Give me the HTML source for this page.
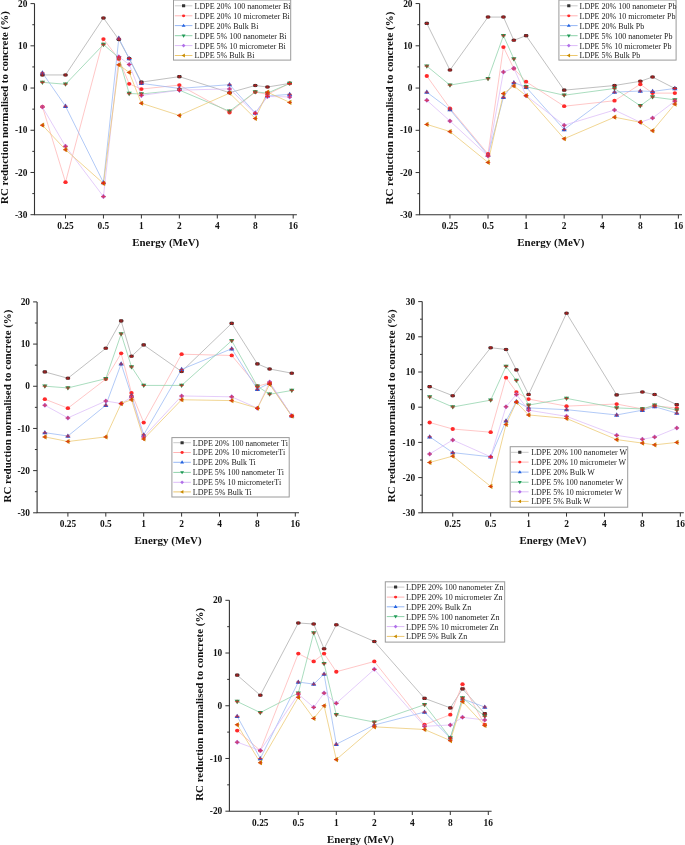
<!DOCTYPE html>
<html><head><meta charset="utf-8"><style>
html,body{margin:0;padding:0;background:#fff;}
svg{display:block;will-change:transform;}
</style></head><body>
<svg width="685" height="845" viewBox="0 0 685 845">
<rect width="685" height="845" fill="#fff"/>
<polyline points="42.42,74.95 65.5,74.95 103.45,17.95 118.82,39.49 129.18,58.49 141.4,82.13 179.35,76.64 229.52,92.68 255.25,85.51 267.47,87.03 289.67,83.4" fill="none" stroke="#ababab" stroke-width="0.75"/>
<polyline points="42.42,106.62 65.5,182.19 103.45,39.06 118.82,58.91 129.18,83.82 141.4,89.05 179.35,85.08 229.52,112.53 255.25,92.05 267.47,94.37 289.67,83.4" fill="none" stroke="#ffb4b4" stroke-width="0.75"/>
<polyline points="42.42,72.84 65.5,106.19 103.45,182.61 118.82,38.22 129.18,58.49 141.4,83.4 179.35,88.46 229.52,84.66 255.25,112.95 267.47,96.06 289.67,94.37" fill="none" stroke="#98b8f4" stroke-width="0.75"/>
<polyline points="42.42,82.34 65.5,84.24 103.45,44.55 118.82,57.64 129.18,93.53 141.4,93.95 179.35,90.15 229.52,111.26 255.25,91.84 267.47,93.11 289.67,83.4" fill="none" stroke="#8ed2aa" stroke-width="0.75"/>
<polyline points="42.42,107.04 65.5,146.3 103.45,196.55 118.82,56.8 129.18,64.4 141.4,95.43 179.35,90.15 229.52,88.88 255.25,113.37 267.47,96.48 289.67,96.91" fill="none" stroke="#dcbcf8" stroke-width="0.75"/>
<polyline points="42.42,125.19 65.5,149.68 103.45,183.46 118.82,64.82 129.18,72.42 141.4,103.24 179.35,115.48 229.52,93.11 255.25,118.44 267.47,92.14 289.67,102.39" fill="none" stroke="#ecc870" stroke-width="0.75"/>
<rect x="40.27" y="73.4" width="4.3" height="3.1" rx="1" fill="#333333"/>
<rect x="63.35" y="73.4" width="4.3" height="3.1" rx="1" fill="#333333"/>
<rect x="101.3" y="16.4" width="4.3" height="3.1" rx="1" fill="#333333"/>
<rect x="116.67" y="37.94" width="4.3" height="3.1" rx="1" fill="#333333"/>
<rect x="127.03" y="56.94" width="4.3" height="3.1" rx="1" fill="#333333"/>
<rect x="139.25" y="80.58" width="4.3" height="3.1" rx="1" fill="#333333"/>
<rect x="177.2" y="75.09" width="4.3" height="3.1" rx="1" fill="#333333"/>
<rect x="227.37" y="91.13" width="4.3" height="3.1" rx="1" fill="#333333"/>
<rect x="253.1" y="83.96" width="4.3" height="3.1" rx="1" fill="#333333"/>
<rect x="265.32" y="85.48" width="4.3" height="3.1" rx="1" fill="#333333"/>
<rect x="287.52" y="81.85" width="4.3" height="3.1" rx="1" fill="#333333"/>
<ellipse cx="42.42" cy="106.62" rx="2.15" ry="1.9" fill="#ff2a2a"/>
<ellipse cx="65.5" cy="182.19" rx="2.15" ry="1.9" fill="#ff2a2a"/>
<ellipse cx="103.45" cy="39.06" rx="2.15" ry="1.9" fill="#ff2a2a"/>
<ellipse cx="118.82" cy="58.91" rx="2.15" ry="1.9" fill="#ff2a2a"/>
<ellipse cx="129.18" cy="83.82" rx="2.15" ry="1.9" fill="#ff2a2a"/>
<ellipse cx="141.4" cy="89.05" rx="2.15" ry="1.9" fill="#ff2a2a"/>
<ellipse cx="179.35" cy="85.08" rx="2.15" ry="1.9" fill="#ff2a2a"/>
<ellipse cx="229.52" cy="112.53" rx="2.15" ry="1.9" fill="#ff2a2a"/>
<ellipse cx="255.25" cy="92.05" rx="2.15" ry="1.9" fill="#ff2a2a"/>
<ellipse cx="267.47" cy="94.37" rx="2.15" ry="1.9" fill="#ff2a2a"/>
<ellipse cx="289.67" cy="83.4" rx="2.15" ry="1.9" fill="#ff2a2a"/>
<path d="M42.42 70.24L45.02 74.53L39.82 74.53Z" fill="#2262e0"/>
<path d="M65.5 103.59L68.1 107.88L62.9 107.88Z" fill="#2262e0"/>
<path d="M103.45 180.01L106.05 184.3L100.85 184.3Z" fill="#2262e0"/>
<path d="M118.82 35.62L121.42 39.91L116.22 39.91Z" fill="#2262e0"/>
<path d="M129.18 55.89L131.78 60.18L126.58 60.18Z" fill="#2262e0"/>
<path d="M141.4 80.8L144 85.09L138.8 85.09Z" fill="#2262e0"/>
<path d="M179.35 85.86L181.95 90.15L176.75 90.15Z" fill="#2262e0"/>
<path d="M229.52 82.06L232.12 86.35L226.92 86.35Z" fill="#2262e0"/>
<path d="M255.25 110.35L257.85 114.64L252.65 114.64Z" fill="#2262e0"/>
<path d="M267.47 93.46L270.07 97.75L264.87 97.75Z" fill="#2262e0"/>
<path d="M289.67 91.77L292.27 96.06L287.07 96.06Z" fill="#2262e0"/>
<path d="M42.42 84.94L45.02 80.65L39.82 80.65Z" fill="#1f9a56"/>
<path d="M65.5 86.84L68.1 82.55L62.9 82.55Z" fill="#1f9a56"/>
<path d="M103.45 47.15L106.05 42.86L100.85 42.86Z" fill="#1f9a56"/>
<path d="M118.82 60.24L121.42 55.95L116.22 55.95Z" fill="#1f9a56"/>
<path d="M129.18 96.13L131.78 91.84L126.58 91.84Z" fill="#1f9a56"/>
<path d="M141.4 96.55L144 92.26L138.8 92.26Z" fill="#1f9a56"/>
<path d="M179.35 92.75L181.95 88.46L176.75 88.46Z" fill="#1f9a56"/>
<path d="M229.52 113.86L232.12 109.57L226.92 109.57Z" fill="#1f9a56"/>
<path d="M255.25 94.44L257.85 90.15L252.65 90.15Z" fill="#1f9a56"/>
<path d="M267.47 95.71L270.07 91.42L264.87 91.42Z" fill="#1f9a56"/>
<path d="M289.67 86L292.27 81.71L287.07 81.71Z" fill="#1f9a56"/>
<path d="M42.42 104.54L44.92 107.04L42.42 109.54L39.92 107.04Z" fill="#b070e8"/>
<path d="M65.5 143.8L68 146.3L65.5 148.8L63 146.3Z" fill="#b070e8"/>
<path d="M103.45 194.05L105.95 196.55L103.45 199.05L100.95 196.55Z" fill="#b070e8"/>
<path d="M118.82 54.3L121.32 56.8L118.82 59.3L116.32 56.8Z" fill="#b070e8"/>
<path d="M129.18 61.9L131.68 64.4L129.18 66.9L126.68 64.4Z" fill="#b070e8"/>
<path d="M141.4 92.93L143.9 95.43L141.4 97.93L138.9 95.43Z" fill="#b070e8"/>
<path d="M179.35 87.65L181.85 90.15L179.35 92.65L176.85 90.15Z" fill="#b070e8"/>
<path d="M229.52 86.38L232.02 88.88L229.52 91.38L227.02 88.88Z" fill="#b070e8"/>
<path d="M255.25 110.87L257.75 113.37L255.25 115.87L252.75 113.37Z" fill="#b070e8"/>
<path d="M267.47 93.98L269.97 96.48L267.47 98.98L264.97 96.48Z" fill="#b070e8"/>
<path d="M289.67 94.41L292.17 96.91L289.67 99.41L287.17 96.91Z" fill="#b070e8"/>
<path d="M39.82 125.19L44.11 122.59L44.11 127.79Z" fill="#c88a00"/>
<path d="M62.9 149.68L67.19 147.08L67.19 152.28Z" fill="#c88a00"/>
<path d="M100.85 183.46L105.14 180.86L105.14 186.06Z" fill="#c88a00"/>
<path d="M116.22 64.82L120.51 62.22L120.51 67.42Z" fill="#c88a00"/>
<path d="M126.58 72.42L130.87 69.82L130.87 75.02Z" fill="#c88a00"/>
<path d="M138.8 103.24L143.09 100.64L143.09 105.84Z" fill="#c88a00"/>
<path d="M176.75 115.48L181.04 112.88L181.04 118.08Z" fill="#c88a00"/>
<path d="M226.92 93.11L231.21 90.51L231.21 95.71Z" fill="#c88a00"/>
<path d="M252.65 118.44L256.94 115.84L256.94 121.04Z" fill="#c88a00"/>
<path d="M264.87 92.14L269.16 89.54L269.16 94.74Z" fill="#c88a00"/>
<path d="M287.07 102.39L291.36 99.79L291.36 104.99Z" fill="#c88a00"/>
<path d="M40.12 74.45h4.6v1.1h-4.6zM41.77 73.25h1.3v3.4h-1.3z" fill="#e81818" fill-opacity="0.6"/>
<path d="M63.2 74.45h4.6v1.1h-4.6zM64.85 73.25h1.3v3.4h-1.3z" fill="#e81818" fill-opacity="0.6"/>
<path d="M101.15 17.45h4.6v1.1h-4.6zM102.8 16.25h1.3v3.4h-1.3z" fill="#e81818" fill-opacity="0.6"/>
<path d="M116.52 38.99h4.6v1.1h-4.6zM118.17 37.79h1.3v3.4h-1.3z" fill="#e81818" fill-opacity="0.6"/>
<path d="M126.88 57.99h4.6v1.1h-4.6zM128.53 56.79h1.3v3.4h-1.3z" fill="#e81818" fill-opacity="0.6"/>
<path d="M139.1 81.63h4.6v1.1h-4.6zM140.75 80.43h1.3v3.4h-1.3z" fill="#e81818" fill-opacity="0.6"/>
<path d="M177.05 76.14h4.6v1.1h-4.6zM178.7 74.94h1.3v3.4h-1.3z" fill="#e81818" fill-opacity="0.6"/>
<path d="M227.22 92.18h4.6v1.1h-4.6zM228.87 90.98h1.3v3.4h-1.3z" fill="#e81818" fill-opacity="0.6"/>
<path d="M252.95 85.01h4.6v1.1h-4.6zM254.6 83.81h1.3v3.4h-1.3z" fill="#e81818" fill-opacity="0.6"/>
<path d="M265.17 86.53h4.6v1.1h-4.6zM266.82 85.33h1.3v3.4h-1.3z" fill="#e81818" fill-opacity="0.6"/>
<path d="M287.37 82.9h4.6v1.1h-4.6zM289.02 81.7h1.3v3.4h-1.3z" fill="#e81818" fill-opacity="0.6"/>
<path d="M40.12 72.34h4.6v1.1h-4.6zM41.77 71.14h1.3v3.4h-1.3z" fill="#e81818" fill-opacity="0.6"/>
<path d="M63.2 105.69h4.6v1.1h-4.6zM64.85 104.49h1.3v3.4h-1.3z" fill="#e81818" fill-opacity="0.6"/>
<path d="M101.15 182.11h4.6v1.1h-4.6zM102.8 180.91h1.3v3.4h-1.3z" fill="#e81818" fill-opacity="0.6"/>
<path d="M116.52 37.72h4.6v1.1h-4.6zM118.17 36.52h1.3v3.4h-1.3z" fill="#e81818" fill-opacity="0.6"/>
<path d="M126.88 57.99h4.6v1.1h-4.6zM128.53 56.79h1.3v3.4h-1.3z" fill="#e81818" fill-opacity="0.6"/>
<path d="M139.1 82.9h4.6v1.1h-4.6zM140.75 81.7h1.3v3.4h-1.3z" fill="#e81818" fill-opacity="0.6"/>
<path d="M177.05 87.96h4.6v1.1h-4.6zM178.7 86.76h1.3v3.4h-1.3z" fill="#e81818" fill-opacity="0.6"/>
<path d="M227.22 84.16h4.6v1.1h-4.6zM228.87 82.96h1.3v3.4h-1.3z" fill="#e81818" fill-opacity="0.6"/>
<path d="M252.95 112.45h4.6v1.1h-4.6zM254.6 111.25h1.3v3.4h-1.3z" fill="#e81818" fill-opacity="0.6"/>
<path d="M265.17 95.56h4.6v1.1h-4.6zM266.82 94.36h1.3v3.4h-1.3z" fill="#e81818" fill-opacity="0.6"/>
<path d="M287.37 93.87h4.6v1.1h-4.6zM289.02 92.67h1.3v3.4h-1.3z" fill="#e81818" fill-opacity="0.6"/>
<path d="M40.12 81.84h4.6v1.1h-4.6zM41.77 80.64h1.3v3.4h-1.3z" fill="#e81818" fill-opacity="0.6"/>
<path d="M63.2 83.74h4.6v1.1h-4.6zM64.85 82.54h1.3v3.4h-1.3z" fill="#e81818" fill-opacity="0.6"/>
<path d="M101.15 44.05h4.6v1.1h-4.6zM102.8 42.85h1.3v3.4h-1.3z" fill="#e81818" fill-opacity="0.6"/>
<path d="M116.52 57.14h4.6v1.1h-4.6zM118.17 55.94h1.3v3.4h-1.3z" fill="#e81818" fill-opacity="0.6"/>
<path d="M126.88 93.03h4.6v1.1h-4.6zM128.53 91.83h1.3v3.4h-1.3z" fill="#e81818" fill-opacity="0.6"/>
<path d="M139.1 93.45h4.6v1.1h-4.6zM140.75 92.25h1.3v3.4h-1.3z" fill="#e81818" fill-opacity="0.6"/>
<path d="M177.05 89.65h4.6v1.1h-4.6zM178.7 88.45h1.3v3.4h-1.3z" fill="#e81818" fill-opacity="0.6"/>
<path d="M227.22 110.76h4.6v1.1h-4.6zM228.87 109.56h1.3v3.4h-1.3z" fill="#e81818" fill-opacity="0.6"/>
<path d="M252.95 91.34h4.6v1.1h-4.6zM254.6 90.14h1.3v3.4h-1.3z" fill="#e81818" fill-opacity="0.6"/>
<path d="M265.17 92.61h4.6v1.1h-4.6zM266.82 91.41h1.3v3.4h-1.3z" fill="#e81818" fill-opacity="0.6"/>
<path d="M287.37 82.9h4.6v1.1h-4.6zM289.02 81.7h1.3v3.4h-1.3z" fill="#e81818" fill-opacity="0.6"/>
<path d="M40.12 106.54h4.6v1.1h-4.6zM41.77 105.34h1.3v3.4h-1.3z" fill="#e81818" fill-opacity="0.6"/>
<path d="M63.2 145.8h4.6v1.1h-4.6zM64.85 144.6h1.3v3.4h-1.3z" fill="#e81818" fill-opacity="0.6"/>
<path d="M101.15 196.05h4.6v1.1h-4.6zM102.8 194.85h1.3v3.4h-1.3z" fill="#e81818" fill-opacity="0.6"/>
<path d="M116.52 56.3h4.6v1.1h-4.6zM118.17 55.1h1.3v3.4h-1.3z" fill="#e81818" fill-opacity="0.6"/>
<path d="M126.88 63.9h4.6v1.1h-4.6zM128.53 62.7h1.3v3.4h-1.3z" fill="#e81818" fill-opacity="0.6"/>
<path d="M139.1 94.93h4.6v1.1h-4.6zM140.75 93.73h1.3v3.4h-1.3z" fill="#e81818" fill-opacity="0.6"/>
<path d="M177.05 89.65h4.6v1.1h-4.6zM178.7 88.45h1.3v3.4h-1.3z" fill="#e81818" fill-opacity="0.6"/>
<path d="M227.22 88.38h4.6v1.1h-4.6zM228.87 87.18h1.3v3.4h-1.3z" fill="#e81818" fill-opacity="0.6"/>
<path d="M252.95 112.87h4.6v1.1h-4.6zM254.6 111.67h1.3v3.4h-1.3z" fill="#e81818" fill-opacity="0.6"/>
<path d="M265.17 95.98h4.6v1.1h-4.6zM266.82 94.78h1.3v3.4h-1.3z" fill="#e81818" fill-opacity="0.6"/>
<path d="M287.37 96.41h4.6v1.1h-4.6zM289.02 95.21h1.3v3.4h-1.3z" fill="#e81818" fill-opacity="0.6"/>
<path d="M40.12 124.69h4.6v1.1h-4.6zM41.77 123.49h1.3v3.4h-1.3z" fill="#e81818" fill-opacity="0.6"/>
<path d="M63.2 149.18h4.6v1.1h-4.6zM64.85 147.98h1.3v3.4h-1.3z" fill="#e81818" fill-opacity="0.6"/>
<path d="M101.15 182.96h4.6v1.1h-4.6zM102.8 181.76h1.3v3.4h-1.3z" fill="#e81818" fill-opacity="0.6"/>
<path d="M116.52 64.32h4.6v1.1h-4.6zM118.17 63.12h1.3v3.4h-1.3z" fill="#e81818" fill-opacity="0.6"/>
<path d="M126.88 71.92h4.6v1.1h-4.6zM128.53 70.72h1.3v3.4h-1.3z" fill="#e81818" fill-opacity="0.6"/>
<path d="M139.1 102.74h4.6v1.1h-4.6zM140.75 101.54h1.3v3.4h-1.3z" fill="#e81818" fill-opacity="0.6"/>
<path d="M177.05 114.98h4.6v1.1h-4.6zM178.7 113.78h1.3v3.4h-1.3z" fill="#e81818" fill-opacity="0.6"/>
<path d="M227.22 92.61h4.6v1.1h-4.6zM228.87 91.41h1.3v3.4h-1.3z" fill="#e81818" fill-opacity="0.6"/>
<path d="M252.95 117.94h4.6v1.1h-4.6zM254.6 116.74h1.3v3.4h-1.3z" fill="#e81818" fill-opacity="0.6"/>
<path d="M265.17 91.64h4.6v1.1h-4.6zM266.82 90.44h1.3v3.4h-1.3z" fill="#e81818" fill-opacity="0.6"/>
<path d="M287.37 101.89h4.6v1.1h-4.6zM289.02 100.69h1.3v3.4h-1.3z" fill="#e81818" fill-opacity="0.6"/>
<path d="M34.5 3.6V214.7H296.9" fill="none" stroke="#333" stroke-width="1.1"/>
<path d="M30.5 3.6H34.5M32.3 24.71H34.5M30.5 45.82H34.5M32.3 66.93H34.5M30.5 88.04H34.5M32.3 109.15H34.5M30.5 130.26H34.5M32.3 151.37H34.5M30.5 172.48H34.5M32.3 193.59H34.5M30.5 214.7H34.5M65.5 214.7V218.5M103.45 214.7V218.5M141.4 214.7V218.5M179.35 214.7V218.5M217.3 214.7V218.5M255.25 214.7V218.5M293.2 214.7V218.5" fill="none" stroke="#333" stroke-width="1"/>
<g font-family="Liberation Serif" font-weight="bold" font-size="9.4" fill="#111"><text x="27.4" y="6.7" text-anchor="end">20</text><text x="27.4" y="48.92" text-anchor="end">10</text><text x="27.4" y="91.14" text-anchor="end">0</text><text x="27.4" y="133.36" text-anchor="end">-10</text><text x="27.4" y="175.58" text-anchor="end">-20</text><text x="27.4" y="217.8" text-anchor="end">-30</text><text x="65.5" y="229" text-anchor="middle">0.25</text><text x="103.45" y="229" text-anchor="middle">0.5</text><text x="141.4" y="229" text-anchor="middle">1</text><text x="179.35" y="229" text-anchor="middle">2</text><text x="217.3" y="229" text-anchor="middle">4</text><text x="255.25" y="229" text-anchor="middle">8</text><text x="293.2" y="229" text-anchor="middle">16</text></g>
<text x="165.7" y="246" text-anchor="middle" font-family="Liberation Serif" font-weight="bold" font-size="10.93" fill="#111">Energy (MeV)</text>
<text transform="translate(8 204) rotate(-90)" font-family="Liberation Serif" font-weight="bold" font-size="10.93" fill="#111">RC reduction normalised to concrete (%)</text>
<rect x="173.5" y="0" width="117.2" height="60.1" fill="#fff" stroke="#9a9a9a" stroke-width="1"/>
<path d="M174.8 5.8H192.4" stroke="#cacaca" stroke-width="1"/>
<rect x="182" y="4.3" width="3.2" height="3" rx="0.3" fill="#333333"/>
<text x="194.6" y="8.7" font-family="Liberation Serif" font-size="8.0" fill="#222">LDPE 20% 100 nanometer Bi</text>
<path d="M174.8 15.8H192.4" stroke="#ffb4b4" stroke-width="1"/>
<ellipse cx="183.6" cy="15.8" rx="1.61" ry="1.42" fill="#ff2a2a"/>
<text x="194.6" y="18.7" font-family="Liberation Serif" font-size="8.0" fill="#222">LDPE 20% 10 micrometer Bi</text>
<path d="M174.8 25.6H192.4" stroke="#98b8f4" stroke-width="1"/>
<path d="M183.6 23.65L185.55 26.87L181.65 26.87Z" fill="#2262e0"/>
<text x="194.6" y="28.5" font-family="Liberation Serif" font-size="8.0" fill="#222">LDPE 20% Bulk Bi</text>
<path d="M174.8 35.7H192.4" stroke="#8ed2aa" stroke-width="1"/>
<path d="M183.6 37.65L185.55 34.43L181.65 34.43Z" fill="#1f9a56"/>
<text x="194.6" y="38.6" font-family="Liberation Serif" font-size="8.0" fill="#222">LDPE 5% 100 nanometer Bi</text>
<path d="M174.8 45.6H192.4" stroke="#dcbcf8" stroke-width="1"/>
<path d="M183.6 43.73L185.47 45.6L183.6 47.48L181.72 45.6Z" fill="#b070e8"/>
<text x="194.6" y="48.5" font-family="Liberation Serif" font-size="8.0" fill="#222">LDPE 5% 10 micrometer Bi</text>
<path d="M174.8 55.5H192.4" stroke="#ecc870" stroke-width="1"/>
<path d="M181.65 55.5L184.87 53.55L184.87 57.45Z" fill="#c88a00"/>
<text x="194.6" y="58.4" font-family="Liberation Serif" font-size="8.0" fill="#222">LDPE 5% Bulk Bi</text>
<polyline points="426.8,23.41 449.96,70.05 488.03,17.07 503.44,17.07 513.84,40.31 526.1,35.66 564.17,90.16 614.5,85.51 640.31,81.29 652.57,77.06 674.84,88.47" fill="none" stroke="#ababab" stroke-width="0.75"/>
<polyline points="426.8,76.01 449.96,108.33 488.03,153.96 503.44,47.07 513.84,68.61 526.1,81.71 564.17,106.22 614.5,100.72 640.31,84.25 652.57,93.12 674.84,93.12" fill="none" stroke="#ffb4b4" stroke-width="0.75"/>
<polyline points="426.8,92.15 449.96,109.6 488.03,155.23 503.44,97.34 513.84,82.56 526.1,87.2 564.17,129.45 614.5,92.15 640.31,91.01 652.57,91.43 674.84,88.47" fill="none" stroke="#98b8f4" stroke-width="0.75"/>
<polyline points="426.8,66.08 449.96,85.09 488.03,78.75 503.44,35.66 513.84,58.9 526.1,86.78 564.17,95.23 614.5,88.47 640.31,105.79 652.57,96.92 674.84,99.88" fill="none" stroke="#8ed2aa" stroke-width="0.75"/>
<polyline points="426.8,100.3 449.96,121 488.03,156.07 503.44,71.99 513.84,68.19 526.1,95.65 564.17,125.23 614.5,110.02 640.31,122.27 652.57,118.05 674.84,101.15" fill="none" stroke="#dcbcf8" stroke-width="0.75"/>
<polyline points="426.8,124.38 449.96,131.57 488.03,162.41 503.44,93.54 513.84,85.94 526.1,95.65 564.17,138.75 614.5,117.2 640.31,122.27 652.57,130.72 674.84,104.1" fill="none" stroke="#ecc870" stroke-width="0.75"/>
<rect x="424.65" y="21.86" width="4.3" height="3.1" rx="1" fill="#333333"/>
<rect x="447.81" y="68.5" width="4.3" height="3.1" rx="1" fill="#333333"/>
<rect x="485.88" y="15.52" width="4.3" height="3.1" rx="1" fill="#333333"/>
<rect x="501.29" y="15.52" width="4.3" height="3.1" rx="1" fill="#333333"/>
<rect x="511.69" y="38.76" width="4.3" height="3.1" rx="1" fill="#333333"/>
<rect x="523.95" y="34.11" width="4.3" height="3.1" rx="1" fill="#333333"/>
<rect x="562.02" y="88.61" width="4.3" height="3.1" rx="1" fill="#333333"/>
<rect x="612.35" y="83.96" width="4.3" height="3.1" rx="1" fill="#333333"/>
<rect x="638.16" y="79.74" width="4.3" height="3.1" rx="1" fill="#333333"/>
<rect x="650.42" y="75.51" width="4.3" height="3.1" rx="1" fill="#333333"/>
<rect x="672.69" y="86.92" width="4.3" height="3.1" rx="1" fill="#333333"/>
<ellipse cx="426.8" cy="76.01" rx="2.15" ry="1.9" fill="#ff2a2a"/>
<ellipse cx="449.96" cy="108.33" rx="2.15" ry="1.9" fill="#ff2a2a"/>
<ellipse cx="488.03" cy="153.96" rx="2.15" ry="1.9" fill="#ff2a2a"/>
<ellipse cx="503.44" cy="47.07" rx="2.15" ry="1.9" fill="#ff2a2a"/>
<ellipse cx="513.84" cy="68.61" rx="2.15" ry="1.9" fill="#ff2a2a"/>
<ellipse cx="526.1" cy="81.71" rx="2.15" ry="1.9" fill="#ff2a2a"/>
<ellipse cx="564.17" cy="106.22" rx="2.15" ry="1.9" fill="#ff2a2a"/>
<ellipse cx="614.5" cy="100.72" rx="2.15" ry="1.9" fill="#ff2a2a"/>
<ellipse cx="640.31" cy="84.25" rx="2.15" ry="1.9" fill="#ff2a2a"/>
<ellipse cx="652.57" cy="93.12" rx="2.15" ry="1.9" fill="#ff2a2a"/>
<ellipse cx="674.84" cy="93.12" rx="2.15" ry="1.9" fill="#ff2a2a"/>
<path d="M426.8 89.55L429.4 93.84L424.2 93.84Z" fill="#2262e0"/>
<path d="M449.96 107L452.56 111.29L447.36 111.29Z" fill="#2262e0"/>
<path d="M488.03 152.63L490.63 156.92L485.43 156.92Z" fill="#2262e0"/>
<path d="M503.44 94.74L506.04 99.03L500.84 99.03Z" fill="#2262e0"/>
<path d="M513.84 79.96L516.44 84.25L511.24 84.25Z" fill="#2262e0"/>
<path d="M526.1 84.61L528.7 88.89L523.5 88.89Z" fill="#2262e0"/>
<path d="M564.17 126.85L566.77 131.14L561.57 131.14Z" fill="#2262e0"/>
<path d="M614.5 89.55L617.1 93.84L611.9 93.84Z" fill="#2262e0"/>
<path d="M640.31 88.41L642.91 92.7L637.71 92.7Z" fill="#2262e0"/>
<path d="M652.57 88.83L655.17 93.12L649.97 93.12Z" fill="#2262e0"/>
<path d="M674.84 85.87L677.44 90.16L672.24 90.16Z" fill="#2262e0"/>
<path d="M426.8 68.68L429.4 64.39L424.2 64.39Z" fill="#1f9a56"/>
<path d="M449.96 87.69L452.56 83.4L447.36 83.4Z" fill="#1f9a56"/>
<path d="M488.03 81.35L490.63 77.06L485.43 77.06Z" fill="#1f9a56"/>
<path d="M503.44 38.26L506.04 33.97L500.84 33.97Z" fill="#1f9a56"/>
<path d="M513.84 61.5L516.44 57.21L511.24 57.21Z" fill="#1f9a56"/>
<path d="M526.1 89.38L528.7 85.09L523.5 85.09Z" fill="#1f9a56"/>
<path d="M564.17 97.83L566.77 93.54L561.57 93.54Z" fill="#1f9a56"/>
<path d="M614.5 91.07L617.1 86.78L611.9 86.78Z" fill="#1f9a56"/>
<path d="M640.31 108.39L642.91 104.1L637.71 104.1Z" fill="#1f9a56"/>
<path d="M652.57 99.52L655.17 95.23L649.97 95.23Z" fill="#1f9a56"/>
<path d="M674.84 102.48L677.44 98.19L672.24 98.19Z" fill="#1f9a56"/>
<path d="M426.8 97.8L429.3 100.3L426.8 102.8L424.3 100.3Z" fill="#b070e8"/>
<path d="M449.96 118.5L452.46 121L449.96 123.5L447.46 121Z" fill="#b070e8"/>
<path d="M488.03 153.57L490.53 156.07L488.03 158.57L485.53 156.07Z" fill="#b070e8"/>
<path d="M503.44 69.49L505.94 71.99L503.44 74.49L500.94 71.99Z" fill="#b070e8"/>
<path d="M513.84 65.69L516.34 68.19L513.84 70.69L511.34 68.19Z" fill="#b070e8"/>
<path d="M526.1 93.15L528.6 95.65L526.1 98.15L523.6 95.65Z" fill="#b070e8"/>
<path d="M564.17 122.73L566.67 125.23L564.17 127.73L561.67 125.23Z" fill="#b070e8"/>
<path d="M614.5 107.52L617 110.02L614.5 112.52L612 110.02Z" fill="#b070e8"/>
<path d="M640.31 119.77L642.81 122.27L640.31 124.77L637.81 122.27Z" fill="#b070e8"/>
<path d="M652.57 115.55L655.07 118.05L652.57 120.55L650.07 118.05Z" fill="#b070e8"/>
<path d="M674.84 98.65L677.34 101.15L674.84 103.65L672.34 101.15Z" fill="#b070e8"/>
<path d="M424.2 124.38L428.49 121.78L428.49 126.98Z" fill="#c88a00"/>
<path d="M447.36 131.57L451.65 128.97L451.65 134.17Z" fill="#c88a00"/>
<path d="M485.43 162.41L489.72 159.81L489.72 165.01Z" fill="#c88a00"/>
<path d="M500.84 93.54L505.13 90.94L505.13 96.14Z" fill="#c88a00"/>
<path d="M511.24 85.94L515.53 83.34L515.53 88.54Z" fill="#c88a00"/>
<path d="M523.5 95.65L527.79 93.05L527.79 98.25Z" fill="#c88a00"/>
<path d="M561.57 138.75L565.86 136.15L565.86 141.35Z" fill="#c88a00"/>
<path d="M611.9 117.2L616.19 114.6L616.19 119.8Z" fill="#c88a00"/>
<path d="M637.71 122.27L642 119.67L642 124.87Z" fill="#c88a00"/>
<path d="M649.97 130.72L654.26 128.12L654.26 133.32Z" fill="#c88a00"/>
<path d="M672.24 104.1L676.53 101.5L676.53 106.7Z" fill="#c88a00"/>
<path d="M424.5 22.91h4.6v1.1h-4.6zM426.15 21.71h1.3v3.4h-1.3z" fill="#e81818" fill-opacity="0.6"/>
<path d="M447.66 69.55h4.6v1.1h-4.6zM449.31 68.35h1.3v3.4h-1.3z" fill="#e81818" fill-opacity="0.6"/>
<path d="M485.73 16.57h4.6v1.1h-4.6zM487.38 15.37h1.3v3.4h-1.3z" fill="#e81818" fill-opacity="0.6"/>
<path d="M501.14 16.57h4.6v1.1h-4.6zM502.79 15.37h1.3v3.4h-1.3z" fill="#e81818" fill-opacity="0.6"/>
<path d="M511.54 39.81h4.6v1.1h-4.6zM513.19 38.61h1.3v3.4h-1.3z" fill="#e81818" fill-opacity="0.6"/>
<path d="M523.8 35.16h4.6v1.1h-4.6zM525.45 33.96h1.3v3.4h-1.3z" fill="#e81818" fill-opacity="0.6"/>
<path d="M561.87 89.66h4.6v1.1h-4.6zM563.52 88.46h1.3v3.4h-1.3z" fill="#e81818" fill-opacity="0.6"/>
<path d="M612.2 85.01h4.6v1.1h-4.6zM613.85 83.81h1.3v3.4h-1.3z" fill="#e81818" fill-opacity="0.6"/>
<path d="M638.01 80.79h4.6v1.1h-4.6zM639.66 79.59h1.3v3.4h-1.3z" fill="#e81818" fill-opacity="0.6"/>
<path d="M650.27 76.56h4.6v1.1h-4.6zM651.92 75.36h1.3v3.4h-1.3z" fill="#e81818" fill-opacity="0.6"/>
<path d="M672.54 87.97h4.6v1.1h-4.6zM674.19 86.77h1.3v3.4h-1.3z" fill="#e81818" fill-opacity="0.6"/>
<path d="M424.5 91.65h4.6v1.1h-4.6zM426.15 90.45h1.3v3.4h-1.3z" fill="#e81818" fill-opacity="0.6"/>
<path d="M447.66 109.1h4.6v1.1h-4.6zM449.31 107.9h1.3v3.4h-1.3z" fill="#e81818" fill-opacity="0.6"/>
<path d="M485.73 154.73h4.6v1.1h-4.6zM487.38 153.53h1.3v3.4h-1.3z" fill="#e81818" fill-opacity="0.6"/>
<path d="M501.14 96.84h4.6v1.1h-4.6zM502.79 95.64h1.3v3.4h-1.3z" fill="#e81818" fill-opacity="0.6"/>
<path d="M511.54 82.06h4.6v1.1h-4.6zM513.19 80.86h1.3v3.4h-1.3z" fill="#e81818" fill-opacity="0.6"/>
<path d="M523.8 86.7h4.6v1.1h-4.6zM525.45 85.5h1.3v3.4h-1.3z" fill="#e81818" fill-opacity="0.6"/>
<path d="M561.87 128.95h4.6v1.1h-4.6zM563.52 127.75h1.3v3.4h-1.3z" fill="#e81818" fill-opacity="0.6"/>
<path d="M612.2 91.65h4.6v1.1h-4.6zM613.85 90.45h1.3v3.4h-1.3z" fill="#e81818" fill-opacity="0.6"/>
<path d="M638.01 90.51h4.6v1.1h-4.6zM639.66 89.31h1.3v3.4h-1.3z" fill="#e81818" fill-opacity="0.6"/>
<path d="M650.27 90.93h4.6v1.1h-4.6zM651.92 89.73h1.3v3.4h-1.3z" fill="#e81818" fill-opacity="0.6"/>
<path d="M672.54 87.97h4.6v1.1h-4.6zM674.19 86.77h1.3v3.4h-1.3z" fill="#e81818" fill-opacity="0.6"/>
<path d="M424.5 65.58h4.6v1.1h-4.6zM426.15 64.38h1.3v3.4h-1.3z" fill="#e81818" fill-opacity="0.6"/>
<path d="M447.66 84.59h4.6v1.1h-4.6zM449.31 83.39h1.3v3.4h-1.3z" fill="#e81818" fill-opacity="0.6"/>
<path d="M485.73 78.25h4.6v1.1h-4.6zM487.38 77.05h1.3v3.4h-1.3z" fill="#e81818" fill-opacity="0.6"/>
<path d="M501.14 35.16h4.6v1.1h-4.6zM502.79 33.96h1.3v3.4h-1.3z" fill="#e81818" fill-opacity="0.6"/>
<path d="M511.54 58.4h4.6v1.1h-4.6zM513.19 57.2h1.3v3.4h-1.3z" fill="#e81818" fill-opacity="0.6"/>
<path d="M523.8 86.28h4.6v1.1h-4.6zM525.45 85.08h1.3v3.4h-1.3z" fill="#e81818" fill-opacity="0.6"/>
<path d="M561.87 94.73h4.6v1.1h-4.6zM563.52 93.53h1.3v3.4h-1.3z" fill="#e81818" fill-opacity="0.6"/>
<path d="M612.2 87.97h4.6v1.1h-4.6zM613.85 86.77h1.3v3.4h-1.3z" fill="#e81818" fill-opacity="0.6"/>
<path d="M638.01 105.29h4.6v1.1h-4.6zM639.66 104.09h1.3v3.4h-1.3z" fill="#e81818" fill-opacity="0.6"/>
<path d="M650.27 96.42h4.6v1.1h-4.6zM651.92 95.22h1.3v3.4h-1.3z" fill="#e81818" fill-opacity="0.6"/>
<path d="M672.54 99.38h4.6v1.1h-4.6zM674.19 98.18h1.3v3.4h-1.3z" fill="#e81818" fill-opacity="0.6"/>
<path d="M424.5 99.8h4.6v1.1h-4.6zM426.15 98.6h1.3v3.4h-1.3z" fill="#e81818" fill-opacity="0.6"/>
<path d="M447.66 120.5h4.6v1.1h-4.6zM449.31 119.3h1.3v3.4h-1.3z" fill="#e81818" fill-opacity="0.6"/>
<path d="M485.73 155.57h4.6v1.1h-4.6zM487.38 154.37h1.3v3.4h-1.3z" fill="#e81818" fill-opacity="0.6"/>
<path d="M501.14 71.49h4.6v1.1h-4.6zM502.79 70.29h1.3v3.4h-1.3z" fill="#e81818" fill-opacity="0.6"/>
<path d="M511.54 67.69h4.6v1.1h-4.6zM513.19 66.49h1.3v3.4h-1.3z" fill="#e81818" fill-opacity="0.6"/>
<path d="M523.8 95.15h4.6v1.1h-4.6zM525.45 93.95h1.3v3.4h-1.3z" fill="#e81818" fill-opacity="0.6"/>
<path d="M561.87 124.73h4.6v1.1h-4.6zM563.52 123.53h1.3v3.4h-1.3z" fill="#e81818" fill-opacity="0.6"/>
<path d="M612.2 109.52h4.6v1.1h-4.6zM613.85 108.32h1.3v3.4h-1.3z" fill="#e81818" fill-opacity="0.6"/>
<path d="M638.01 121.77h4.6v1.1h-4.6zM639.66 120.57h1.3v3.4h-1.3z" fill="#e81818" fill-opacity="0.6"/>
<path d="M650.27 117.55h4.6v1.1h-4.6zM651.92 116.35h1.3v3.4h-1.3z" fill="#e81818" fill-opacity="0.6"/>
<path d="M672.54 100.65h4.6v1.1h-4.6zM674.19 99.45h1.3v3.4h-1.3z" fill="#e81818" fill-opacity="0.6"/>
<path d="M424.5 123.88h4.6v1.1h-4.6zM426.15 122.68h1.3v3.4h-1.3z" fill="#e81818" fill-opacity="0.6"/>
<path d="M447.66 131.07h4.6v1.1h-4.6zM449.31 129.87h1.3v3.4h-1.3z" fill="#e81818" fill-opacity="0.6"/>
<path d="M485.73 161.91h4.6v1.1h-4.6zM487.38 160.71h1.3v3.4h-1.3z" fill="#e81818" fill-opacity="0.6"/>
<path d="M501.14 93.04h4.6v1.1h-4.6zM502.79 91.84h1.3v3.4h-1.3z" fill="#e81818" fill-opacity="0.6"/>
<path d="M511.54 85.44h4.6v1.1h-4.6zM513.19 84.24h1.3v3.4h-1.3z" fill="#e81818" fill-opacity="0.6"/>
<path d="M523.8 95.15h4.6v1.1h-4.6zM525.45 93.95h1.3v3.4h-1.3z" fill="#e81818" fill-opacity="0.6"/>
<path d="M561.87 138.25h4.6v1.1h-4.6zM563.52 137.05h1.3v3.4h-1.3z" fill="#e81818" fill-opacity="0.6"/>
<path d="M612.2 116.7h4.6v1.1h-4.6zM613.85 115.5h1.3v3.4h-1.3z" fill="#e81818" fill-opacity="0.6"/>
<path d="M638.01 121.77h4.6v1.1h-4.6zM639.66 120.57h1.3v3.4h-1.3z" fill="#e81818" fill-opacity="0.6"/>
<path d="M650.27 130.22h4.6v1.1h-4.6zM651.92 129.02h1.3v3.4h-1.3z" fill="#e81818" fill-opacity="0.6"/>
<path d="M672.54 103.6h4.6v1.1h-4.6zM674.19 102.4h1.3v3.4h-1.3z" fill="#e81818" fill-opacity="0.6"/>
<path d="M419.6 3.55V214.8H682" fill="none" stroke="#333" stroke-width="1.1"/>
<path d="M415.6 3.55H419.6M417.4 24.68H419.6M415.6 45.8H419.6M417.4 66.92H419.6M415.6 88.05H419.6M417.4 109.17H419.6M415.6 130.3H419.6M417.4 151.43H419.6M415.6 172.55H419.6M417.4 193.67H419.6M415.6 214.8H419.6M449.96 214.8V218.6M488.03 214.8V218.6M526.1 214.8V218.6M564.17 214.8V218.6M602.24 214.8V218.6M640.31 214.8V218.6M678.38 214.8V218.6" fill="none" stroke="#333" stroke-width="1"/>
<g font-family="Liberation Serif" font-weight="bold" font-size="9.4" fill="#111"><text x="412.5" y="6.65" text-anchor="end">20</text><text x="412.5" y="48.9" text-anchor="end">10</text><text x="412.5" y="91.15" text-anchor="end">0</text><text x="412.5" y="133.4" text-anchor="end">-10</text><text x="412.5" y="175.65" text-anchor="end">-20</text><text x="412.5" y="217.9" text-anchor="end">-30</text><text x="449.96" y="229.1" text-anchor="middle">0.25</text><text x="488.03" y="229.1" text-anchor="middle">0.5</text><text x="526.1" y="229.1" text-anchor="middle">1</text><text x="564.17" y="229.1" text-anchor="middle">2</text><text x="602.24" y="229.1" text-anchor="middle">4</text><text x="640.31" y="229.1" text-anchor="middle">8</text><text x="678.38" y="229.1" text-anchor="middle">16</text></g>
<text x="550.8" y="246.1" text-anchor="middle" font-family="Liberation Serif" font-weight="bold" font-size="10.93" fill="#111">Energy (MeV)</text>
<text transform="translate(392.9 204.5) rotate(-90)" font-family="Liberation Serif" font-weight="bold" font-size="10.93" fill="#111">RC reduction normalised to concrete (%)</text>
<rect x="558.9" y="0" width="117.2" height="60.1" fill="#fff" stroke="#9a9a9a" stroke-width="1"/>
<path d="M560 5.8H577.6" stroke="#cacaca" stroke-width="1"/>
<rect x="567.2" y="4.3" width="3.2" height="3" rx="0.3" fill="#333333"/>
<text x="579.5" y="8.7" font-family="Liberation Serif" font-size="8.0" fill="#222">LDPE 20% 100 nanometer Pb</text>
<path d="M560 15.8H577.6" stroke="#ffb4b4" stroke-width="1"/>
<ellipse cx="568.8" cy="15.8" rx="1.61" ry="1.42" fill="#ff2a2a"/>
<text x="579.5" y="18.7" font-family="Liberation Serif" font-size="8.0" fill="#222">LDPE 20% 10 micrometer Pb</text>
<path d="M560 25.6H577.6" stroke="#98b8f4" stroke-width="1"/>
<path d="M568.8 23.65L570.75 26.87L566.85 26.87Z" fill="#2262e0"/>
<text x="579.5" y="28.5" font-family="Liberation Serif" font-size="8.0" fill="#222">LDPE 20% Bulk Pb</text>
<path d="M560 35.7H577.6" stroke="#8ed2aa" stroke-width="1"/>
<path d="M568.8 37.65L570.75 34.43L566.85 34.43Z" fill="#1f9a56"/>
<text x="579.5" y="38.6" font-family="Liberation Serif" font-size="8.0" fill="#222">LDPE 5% 100 nanometer Pb</text>
<path d="M560 45.6H577.6" stroke="#dcbcf8" stroke-width="1"/>
<path d="M568.8 43.73L570.67 45.6L568.8 47.48L566.92 45.6Z" fill="#b070e8"/>
<text x="579.5" y="48.5" font-family="Liberation Serif" font-size="8.0" fill="#222">LDPE 5% 10 micrometer Pb</text>
<path d="M560 55.5H577.6" stroke="#ecc870" stroke-width="1"/>
<path d="M566.85 55.5L570.07 53.55L570.07 57.45Z" fill="#c88a00"/>
<text x="579.5" y="58.4" font-family="Liberation Serif" font-size="8.0" fill="#222">LDPE 5% Bulk Pb</text>
<polyline points="44.85,371.92 67.9,378.25 105.8,348.3 121.15,320.88 131.5,356.31 143.7,344.92 181.6,371.5 231.7,323.41 257.4,363.9 269.6,368.97 291.77,373.18" fill="none" stroke="#ababab" stroke-width="0.75"/>
<polyline points="44.85,399.17 67.9,408.19 105.8,379.09 121.15,353.36 131.5,393.01 143.7,422.53 181.6,354.2 231.7,355.47 257.4,386.26 269.6,382.89 291.77,415.79" fill="none" stroke="#ffb4b4" stroke-width="0.75"/>
<polyline points="44.85,432.66 67.9,436.03 105.8,405.24 121.15,363.9 131.5,395.54 143.7,434.77 181.6,369.39 231.7,348.72 257.4,389.21 269.6,383.31 291.77,415.79" fill="none" stroke="#98b8f4" stroke-width="0.75"/>
<polyline points="44.85,386.18 67.9,387.95 105.8,378.67 121.15,333.96 131.5,366.86 143.7,385.42 181.6,385.42 231.7,340.71 257.4,386.26 269.6,394.27 291.77,390.48" fill="none" stroke="#8ed2aa" stroke-width="0.75"/>
<polyline points="44.85,405.24 67.9,417.89 105.8,401.02 121.15,403.55 131.5,397.23 143.7,436.88 181.6,395.96 231.7,396.8 257.4,408.19 269.6,382.04 291.77,415.79" fill="none" stroke="#dcbcf8" stroke-width="0.75"/>
<polyline points="44.85,436.88 67.9,441.52 105.8,436.88 121.15,403.55 131.5,399.76 143.7,438.99 181.6,399.76 231.7,400.6 257.4,408.19 269.6,384.36 291.77,416.21" fill="none" stroke="#ecc870" stroke-width="0.75"/>
<rect x="42.7" y="370.37" width="4.3" height="3.1" rx="1" fill="#333333"/>
<rect x="65.75" y="376.7" width="4.3" height="3.1" rx="1" fill="#333333"/>
<rect x="103.65" y="346.75" width="4.3" height="3.1" rx="1" fill="#333333"/>
<rect x="119" y="319.33" width="4.3" height="3.1" rx="1" fill="#333333"/>
<rect x="129.35" y="354.76" width="4.3" height="3.1" rx="1" fill="#333333"/>
<rect x="141.55" y="343.37" width="4.3" height="3.1" rx="1" fill="#333333"/>
<rect x="179.45" y="369.95" width="4.3" height="3.1" rx="1" fill="#333333"/>
<rect x="229.55" y="321.86" width="4.3" height="3.1" rx="1" fill="#333333"/>
<rect x="255.25" y="362.35" width="4.3" height="3.1" rx="1" fill="#333333"/>
<rect x="267.45" y="367.42" width="4.3" height="3.1" rx="1" fill="#333333"/>
<rect x="289.62" y="371.63" width="4.3" height="3.1" rx="1" fill="#333333"/>
<ellipse cx="44.85" cy="399.17" rx="2.15" ry="1.9" fill="#ff2a2a"/>
<ellipse cx="67.9" cy="408.19" rx="2.15" ry="1.9" fill="#ff2a2a"/>
<ellipse cx="105.8" cy="379.09" rx="2.15" ry="1.9" fill="#ff2a2a"/>
<ellipse cx="121.15" cy="353.36" rx="2.15" ry="1.9" fill="#ff2a2a"/>
<ellipse cx="131.5" cy="393.01" rx="2.15" ry="1.9" fill="#ff2a2a"/>
<ellipse cx="143.7" cy="422.53" rx="2.15" ry="1.9" fill="#ff2a2a"/>
<ellipse cx="181.6" cy="354.2" rx="2.15" ry="1.9" fill="#ff2a2a"/>
<ellipse cx="231.7" cy="355.47" rx="2.15" ry="1.9" fill="#ff2a2a"/>
<ellipse cx="257.4" cy="386.26" rx="2.15" ry="1.9" fill="#ff2a2a"/>
<ellipse cx="269.6" cy="382.89" rx="2.15" ry="1.9" fill="#ff2a2a"/>
<ellipse cx="291.77" cy="415.79" rx="2.15" ry="1.9" fill="#ff2a2a"/>
<path d="M44.85 430.06L47.45 434.35L42.25 434.35Z" fill="#2262e0"/>
<path d="M67.9 433.43L70.5 437.72L65.3 437.72Z" fill="#2262e0"/>
<path d="M105.8 402.64L108.4 406.93L103.2 406.93Z" fill="#2262e0"/>
<path d="M121.15 361.3L123.75 365.59L118.55 365.59Z" fill="#2262e0"/>
<path d="M131.5 392.94L134.1 397.23L128.9 397.23Z" fill="#2262e0"/>
<path d="M143.7 432.17L146.3 436.46L141.1 436.46Z" fill="#2262e0"/>
<path d="M181.6 366.79L184.2 371.08L179 371.08Z" fill="#2262e0"/>
<path d="M231.7 346.12L234.3 350.41L229.1 350.41Z" fill="#2262e0"/>
<path d="M257.4 386.61L260 390.9L254.8 390.9Z" fill="#2262e0"/>
<path d="M269.6 380.71L272.2 385L267 385Z" fill="#2262e0"/>
<path d="M291.77 413.19L294.37 417.48L289.17 417.48Z" fill="#2262e0"/>
<path d="M44.85 388.78L47.45 384.49L42.25 384.49Z" fill="#1f9a56"/>
<path d="M67.9 390.55L70.5 386.26L65.3 386.26Z" fill="#1f9a56"/>
<path d="M105.8 381.27L108.4 376.98L103.2 376.98Z" fill="#1f9a56"/>
<path d="M121.15 336.56L123.75 332.27L118.55 332.27Z" fill="#1f9a56"/>
<path d="M131.5 369.46L134.1 365.17L128.9 365.17Z" fill="#1f9a56"/>
<path d="M143.7 388.02L146.3 383.73L141.1 383.73Z" fill="#1f9a56"/>
<path d="M181.6 388.02L184.2 383.73L179 383.73Z" fill="#1f9a56"/>
<path d="M231.7 343.31L234.3 339.02L229.1 339.02Z" fill="#1f9a56"/>
<path d="M257.4 388.86L260 384.57L254.8 384.57Z" fill="#1f9a56"/>
<path d="M269.6 396.87L272.2 392.58L267 392.58Z" fill="#1f9a56"/>
<path d="M291.77 393.08L294.37 388.79L289.17 388.79Z" fill="#1f9a56"/>
<path d="M44.85 402.74L47.35 405.24L44.85 407.74L42.35 405.24Z" fill="#b070e8"/>
<path d="M67.9 415.39L70.4 417.89L67.9 420.39L65.4 417.89Z" fill="#b070e8"/>
<path d="M105.8 398.52L108.3 401.02L105.8 403.52L103.3 401.02Z" fill="#b070e8"/>
<path d="M121.15 401.05L123.65 403.55L121.15 406.05L118.65 403.55Z" fill="#b070e8"/>
<path d="M131.5 394.73L134 397.23L131.5 399.73L129 397.23Z" fill="#b070e8"/>
<path d="M143.7 434.38L146.2 436.88L143.7 439.38L141.2 436.88Z" fill="#b070e8"/>
<path d="M181.6 393.46L184.1 395.96L181.6 398.46L179.1 395.96Z" fill="#b070e8"/>
<path d="M231.7 394.3L234.2 396.8L231.7 399.3L229.2 396.8Z" fill="#b070e8"/>
<path d="M257.4 405.69L259.9 408.19L257.4 410.69L254.9 408.19Z" fill="#b070e8"/>
<path d="M269.6 379.54L272.1 382.04L269.6 384.54L267.1 382.04Z" fill="#b070e8"/>
<path d="M291.77 413.29L294.27 415.79L291.77 418.29L289.27 415.79Z" fill="#b070e8"/>
<path d="M42.25 436.88L46.54 434.28L46.54 439.48Z" fill="#c88a00"/>
<path d="M65.3 441.52L69.59 438.92L69.59 444.12Z" fill="#c88a00"/>
<path d="M103.2 436.88L107.49 434.28L107.49 439.48Z" fill="#c88a00"/>
<path d="M118.55 403.55L122.84 400.95L122.84 406.15Z" fill="#c88a00"/>
<path d="M128.9 399.76L133.19 397.16L133.19 402.36Z" fill="#c88a00"/>
<path d="M141.1 438.99L145.39 436.38L145.39 441.59Z" fill="#c88a00"/>
<path d="M179 399.76L183.29 397.16L183.29 402.36Z" fill="#c88a00"/>
<path d="M229.1 400.6L233.39 398L233.39 403.2Z" fill="#c88a00"/>
<path d="M254.8 408.19L259.09 405.59L259.09 410.79Z" fill="#c88a00"/>
<path d="M267 384.36L271.29 381.76L271.29 386.96Z" fill="#c88a00"/>
<path d="M289.17 416.21L293.46 413.61L293.46 418.81Z" fill="#c88a00"/>
<path d="M42.55 371.42h4.6v1.1h-4.6zM44.2 370.22h1.3v3.4h-1.3z" fill="#e81818" fill-opacity="0.6"/>
<path d="M65.6 377.75h4.6v1.1h-4.6zM67.25 376.55h1.3v3.4h-1.3z" fill="#e81818" fill-opacity="0.6"/>
<path d="M103.5 347.8h4.6v1.1h-4.6zM105.15 346.6h1.3v3.4h-1.3z" fill="#e81818" fill-opacity="0.6"/>
<path d="M118.85 320.38h4.6v1.1h-4.6zM120.5 319.18h1.3v3.4h-1.3z" fill="#e81818" fill-opacity="0.6"/>
<path d="M129.2 355.81h4.6v1.1h-4.6zM130.85 354.61h1.3v3.4h-1.3z" fill="#e81818" fill-opacity="0.6"/>
<path d="M141.4 344.42h4.6v1.1h-4.6zM143.05 343.22h1.3v3.4h-1.3z" fill="#e81818" fill-opacity="0.6"/>
<path d="M179.3 371h4.6v1.1h-4.6zM180.95 369.8h1.3v3.4h-1.3z" fill="#e81818" fill-opacity="0.6"/>
<path d="M229.4 322.91h4.6v1.1h-4.6zM231.05 321.71h1.3v3.4h-1.3z" fill="#e81818" fill-opacity="0.6"/>
<path d="M255.1 363.4h4.6v1.1h-4.6zM256.75 362.2h1.3v3.4h-1.3z" fill="#e81818" fill-opacity="0.6"/>
<path d="M267.3 368.47h4.6v1.1h-4.6zM268.95 367.27h1.3v3.4h-1.3z" fill="#e81818" fill-opacity="0.6"/>
<path d="M289.47 372.68h4.6v1.1h-4.6zM291.12 371.48h1.3v3.4h-1.3z" fill="#e81818" fill-opacity="0.6"/>
<path d="M42.55 432.16h4.6v1.1h-4.6zM44.2 430.96h1.3v3.4h-1.3z" fill="#e81818" fill-opacity="0.6"/>
<path d="M65.6 435.53h4.6v1.1h-4.6zM67.25 434.33h1.3v3.4h-1.3z" fill="#e81818" fill-opacity="0.6"/>
<path d="M103.5 404.74h4.6v1.1h-4.6zM105.15 403.54h1.3v3.4h-1.3z" fill="#e81818" fill-opacity="0.6"/>
<path d="M118.85 363.4h4.6v1.1h-4.6zM120.5 362.2h1.3v3.4h-1.3z" fill="#e81818" fill-opacity="0.6"/>
<path d="M129.2 395.04h4.6v1.1h-4.6zM130.85 393.84h1.3v3.4h-1.3z" fill="#e81818" fill-opacity="0.6"/>
<path d="M141.4 434.27h4.6v1.1h-4.6zM143.05 433.07h1.3v3.4h-1.3z" fill="#e81818" fill-opacity="0.6"/>
<path d="M179.3 368.89h4.6v1.1h-4.6zM180.95 367.69h1.3v3.4h-1.3z" fill="#e81818" fill-opacity="0.6"/>
<path d="M229.4 348.22h4.6v1.1h-4.6zM231.05 347.02h1.3v3.4h-1.3z" fill="#e81818" fill-opacity="0.6"/>
<path d="M255.1 388.71h4.6v1.1h-4.6zM256.75 387.51h1.3v3.4h-1.3z" fill="#e81818" fill-opacity="0.6"/>
<path d="M267.3 382.81h4.6v1.1h-4.6zM268.95 381.61h1.3v3.4h-1.3z" fill="#e81818" fill-opacity="0.6"/>
<path d="M289.47 415.29h4.6v1.1h-4.6zM291.12 414.09h1.3v3.4h-1.3z" fill="#e81818" fill-opacity="0.6"/>
<path d="M42.55 385.68h4.6v1.1h-4.6zM44.2 384.48h1.3v3.4h-1.3z" fill="#e81818" fill-opacity="0.6"/>
<path d="M65.6 387.45h4.6v1.1h-4.6zM67.25 386.25h1.3v3.4h-1.3z" fill="#e81818" fill-opacity="0.6"/>
<path d="M103.5 378.17h4.6v1.1h-4.6zM105.15 376.97h1.3v3.4h-1.3z" fill="#e81818" fill-opacity="0.6"/>
<path d="M118.85 333.46h4.6v1.1h-4.6zM120.5 332.26h1.3v3.4h-1.3z" fill="#e81818" fill-opacity="0.6"/>
<path d="M129.2 366.36h4.6v1.1h-4.6zM130.85 365.16h1.3v3.4h-1.3z" fill="#e81818" fill-opacity="0.6"/>
<path d="M141.4 384.92h4.6v1.1h-4.6zM143.05 383.72h1.3v3.4h-1.3z" fill="#e81818" fill-opacity="0.6"/>
<path d="M179.3 384.92h4.6v1.1h-4.6zM180.95 383.72h1.3v3.4h-1.3z" fill="#e81818" fill-opacity="0.6"/>
<path d="M229.4 340.21h4.6v1.1h-4.6zM231.05 339.01h1.3v3.4h-1.3z" fill="#e81818" fill-opacity="0.6"/>
<path d="M255.1 385.76h4.6v1.1h-4.6zM256.75 384.56h1.3v3.4h-1.3z" fill="#e81818" fill-opacity="0.6"/>
<path d="M267.3 393.77h4.6v1.1h-4.6zM268.95 392.57h1.3v3.4h-1.3z" fill="#e81818" fill-opacity="0.6"/>
<path d="M289.47 389.98h4.6v1.1h-4.6zM291.12 388.78h1.3v3.4h-1.3z" fill="#e81818" fill-opacity="0.6"/>
<path d="M42.55 404.74h4.6v1.1h-4.6zM44.2 403.54h1.3v3.4h-1.3z" fill="#e81818" fill-opacity="0.6"/>
<path d="M65.6 417.39h4.6v1.1h-4.6zM67.25 416.19h1.3v3.4h-1.3z" fill="#e81818" fill-opacity="0.6"/>
<path d="M103.5 400.52h4.6v1.1h-4.6zM105.15 399.32h1.3v3.4h-1.3z" fill="#e81818" fill-opacity="0.6"/>
<path d="M118.85 403.05h4.6v1.1h-4.6zM120.5 401.85h1.3v3.4h-1.3z" fill="#e81818" fill-opacity="0.6"/>
<path d="M129.2 396.73h4.6v1.1h-4.6zM130.85 395.53h1.3v3.4h-1.3z" fill="#e81818" fill-opacity="0.6"/>
<path d="M141.4 436.38h4.6v1.1h-4.6zM143.05 435.18h1.3v3.4h-1.3z" fill="#e81818" fill-opacity="0.6"/>
<path d="M179.3 395.46h4.6v1.1h-4.6zM180.95 394.26h1.3v3.4h-1.3z" fill="#e81818" fill-opacity="0.6"/>
<path d="M229.4 396.3h4.6v1.1h-4.6zM231.05 395.1h1.3v3.4h-1.3z" fill="#e81818" fill-opacity="0.6"/>
<path d="M255.1 407.69h4.6v1.1h-4.6zM256.75 406.49h1.3v3.4h-1.3z" fill="#e81818" fill-opacity="0.6"/>
<path d="M267.3 381.54h4.6v1.1h-4.6zM268.95 380.34h1.3v3.4h-1.3z" fill="#e81818" fill-opacity="0.6"/>
<path d="M289.47 415.29h4.6v1.1h-4.6zM291.12 414.09h1.3v3.4h-1.3z" fill="#e81818" fill-opacity="0.6"/>
<path d="M42.55 436.38h4.6v1.1h-4.6zM44.2 435.18h1.3v3.4h-1.3z" fill="#e81818" fill-opacity="0.6"/>
<path d="M65.6 441.02h4.6v1.1h-4.6zM67.25 439.82h1.3v3.4h-1.3z" fill="#e81818" fill-opacity="0.6"/>
<path d="M103.5 436.38h4.6v1.1h-4.6zM105.15 435.18h1.3v3.4h-1.3z" fill="#e81818" fill-opacity="0.6"/>
<path d="M118.85 403.05h4.6v1.1h-4.6zM120.5 401.85h1.3v3.4h-1.3z" fill="#e81818" fill-opacity="0.6"/>
<path d="M129.2 399.26h4.6v1.1h-4.6zM130.85 398.06h1.3v3.4h-1.3z" fill="#e81818" fill-opacity="0.6"/>
<path d="M141.4 438.49h4.6v1.1h-4.6zM143.05 437.29h1.3v3.4h-1.3z" fill="#e81818" fill-opacity="0.6"/>
<path d="M179.3 399.26h4.6v1.1h-4.6zM180.95 398.06h1.3v3.4h-1.3z" fill="#e81818" fill-opacity="0.6"/>
<path d="M229.4 400.1h4.6v1.1h-4.6zM231.05 398.9h1.3v3.4h-1.3z" fill="#e81818" fill-opacity="0.6"/>
<path d="M255.1 407.69h4.6v1.1h-4.6zM256.75 406.49h1.3v3.4h-1.3z" fill="#e81818" fill-opacity="0.6"/>
<path d="M267.3 383.86h4.6v1.1h-4.6zM268.95 382.66h1.3v3.4h-1.3z" fill="#e81818" fill-opacity="0.6"/>
<path d="M289.47 415.71h4.6v1.1h-4.6zM291.12 414.51h1.3v3.4h-1.3z" fill="#e81818" fill-opacity="0.6"/>
<path d="M37.1 301.9V512.8H299" fill="none" stroke="#333" stroke-width="1.1"/>
<path d="M33.1 301.9H37.1M34.9 322.99H37.1M33.1 344.08H37.1M34.9 365.17H37.1M33.1 386.26H37.1M34.9 407.35H37.1M33.1 428.44H37.1M34.9 449.53H37.1M33.1 470.62H37.1M34.9 491.71H37.1M33.1 512.8H37.1M67.9 512.8V516.6M105.8 512.8V516.6M143.7 512.8V516.6M181.6 512.8V516.6M219.5 512.8V516.6M257.4 512.8V516.6M295.3 512.8V516.6" fill="none" stroke="#333" stroke-width="1"/>
<g font-family="Liberation Serif" font-weight="bold" font-size="9.4" fill="#111"><text x="30" y="305" text-anchor="end">20</text><text x="30" y="347.18" text-anchor="end">10</text><text x="30" y="389.36" text-anchor="end">0</text><text x="30" y="431.54" text-anchor="end">-10</text><text x="30" y="473.72" text-anchor="end">-20</text><text x="30" y="515.9" text-anchor="end">-30</text><text x="67.9" y="527.1" text-anchor="middle">0.25</text><text x="105.8" y="527.1" text-anchor="middle">0.5</text><text x="143.7" y="527.1" text-anchor="middle">1</text><text x="181.6" y="527.1" text-anchor="middle">2</text><text x="219.5" y="527.1" text-anchor="middle">4</text><text x="257.4" y="527.1" text-anchor="middle">8</text><text x="295.3" y="527.1" text-anchor="middle">16</text></g>
<text x="168.05" y="544.1" text-anchor="middle" font-family="Liberation Serif" font-weight="bold" font-size="10.93" fill="#111">Energy (MeV)</text>
<text transform="translate(10.5 502.4) rotate(-90)" font-family="Liberation Serif" font-weight="bold" font-size="10.93" fill="#111">RC reduction normalised to concrete (%)</text>
<rect x="171.9" y="437.6" width="117.3" height="59.4" fill="#fff" stroke="#9a9a9a" stroke-width="1"/>
<path d="M173.3 442.7H190.9" stroke="#cacaca" stroke-width="1"/>
<rect x="180.5" y="441.2" width="3.2" height="3" rx="0.3" fill="#333333"/>
<text x="192.8" y="445.6" font-family="Liberation Serif" font-size="8.0" fill="#222">LDPE 20% 100 nanometer Ti</text>
<path d="M173.3 452.5H190.9" stroke="#ffb4b4" stroke-width="1"/>
<ellipse cx="182.1" cy="452.5" rx="1.61" ry="1.42" fill="#ff2a2a"/>
<text x="192.8" y="455.4" font-family="Liberation Serif" font-size="8.0" fill="#222">LDPE 20% 10 micrometerTi</text>
<path d="M173.3 462.3H190.9" stroke="#98b8f4" stroke-width="1"/>
<path d="M182.1 460.35L184.05 463.57L180.15 463.57Z" fill="#2262e0"/>
<text x="192.8" y="465.2" font-family="Liberation Serif" font-size="8.0" fill="#222">LDPE 20% Bulk Ti</text>
<path d="M173.3 472.4H190.9" stroke="#8ed2aa" stroke-width="1"/>
<path d="M182.1 474.35L184.05 471.13L180.15 471.13Z" fill="#1f9a56"/>
<text x="192.8" y="475.3" font-family="Liberation Serif" font-size="8.0" fill="#222">LDPE 5% 100 nanometer Ti</text>
<path d="M173.3 482.3H190.9" stroke="#dcbcf8" stroke-width="1"/>
<path d="M182.1 480.43L183.97 482.3L182.1 484.18L180.22 482.3Z" fill="#b070e8"/>
<text x="192.8" y="485.2" font-family="Liberation Serif" font-size="8.0" fill="#222">LDPE 5% 10 micrometerTi</text>
<path d="M173.3 491.9H190.9" stroke="#ecc870" stroke-width="1"/>
<path d="M180.15 491.9L183.37 489.95L183.37 493.85Z" fill="#c88a00"/>
<text x="192.8" y="494.8" font-family="Liberation Serif" font-size="8.0" fill="#222">LDPE 5% Bulk Ti</text>
<polyline points="429.67,386.61 452.74,395.69 490.67,347.71 506.03,349.47 516.39,369.89 528.6,394.53 566.53,313.22 616.67,394.88 642.39,392.06 654.6,394.53 676.79,404.6" fill="none" stroke="#ababab" stroke-width="0.75"/>
<polyline points="429.67,422.51 452.74,429.02 490.67,432.19 506.03,377.63 516.39,392.06 528.6,399.1 566.53,406.14 616.67,404.03 642.39,408.96 654.6,405.79 676.79,408.08" fill="none" stroke="#ffb4b4" stroke-width="0.75"/>
<polyline points="429.67,436.77 452.74,452.61 490.67,456.83 506.03,420.93 516.39,401.57 528.6,407.9 566.53,409.66 616.67,414.94 642.39,410.19 654.6,406.67 676.79,413.18" fill="none" stroke="#98b8f4" stroke-width="0.75"/>
<polyline points="429.67,396.99 452.74,406.99 490.67,400.16 506.03,366.37 516.39,380.45 528.6,405.09 566.53,398.4 616.67,407.9 642.39,408.96 654.6,405.09 676.79,410.19" fill="none" stroke="#8ed2aa" stroke-width="0.75"/>
<polyline points="429.67,454.02 452.74,439.94 490.67,456.83 506.03,406.71 516.39,394.53 528.6,410.19 566.53,416.35 616.67,435.36 642.39,439.23 654.6,437.12 676.79,427.97" fill="none" stroke="#dcbcf8" stroke-width="0.75"/>
<polyline points="429.67,462.46 452.74,456.13 490.67,486.4 506.03,424.45 516.39,402.27 528.6,414.94 566.53,418.46 616.67,439.58 642.39,443.1 654.6,444.86 676.79,442.4" fill="none" stroke="#ecc870" stroke-width="0.75"/>
<rect x="427.52" y="385.06" width="4.3" height="3.1" rx="1" fill="#333333"/>
<rect x="450.59" y="394.14" width="4.3" height="3.1" rx="1" fill="#333333"/>
<rect x="488.52" y="346.16" width="4.3" height="3.1" rx="1" fill="#333333"/>
<rect x="503.88" y="347.92" width="4.3" height="3.1" rx="1" fill="#333333"/>
<rect x="514.24" y="368.34" width="4.3" height="3.1" rx="1" fill="#333333"/>
<rect x="526.45" y="392.98" width="4.3" height="3.1" rx="1" fill="#333333"/>
<rect x="564.38" y="311.67" width="4.3" height="3.1" rx="1" fill="#333333"/>
<rect x="614.52" y="393.33" width="4.3" height="3.1" rx="1" fill="#333333"/>
<rect x="640.24" y="390.51" width="4.3" height="3.1" rx="1" fill="#333333"/>
<rect x="652.45" y="392.98" width="4.3" height="3.1" rx="1" fill="#333333"/>
<rect x="674.64" y="403.05" width="4.3" height="3.1" rx="1" fill="#333333"/>
<ellipse cx="429.67" cy="422.51" rx="2.15" ry="1.9" fill="#ff2a2a"/>
<ellipse cx="452.74" cy="429.02" rx="2.15" ry="1.9" fill="#ff2a2a"/>
<ellipse cx="490.67" cy="432.19" rx="2.15" ry="1.9" fill="#ff2a2a"/>
<ellipse cx="506.03" cy="377.63" rx="2.15" ry="1.9" fill="#ff2a2a"/>
<ellipse cx="516.39" cy="392.06" rx="2.15" ry="1.9" fill="#ff2a2a"/>
<ellipse cx="528.6" cy="399.1" rx="2.15" ry="1.9" fill="#ff2a2a"/>
<ellipse cx="566.53" cy="406.14" rx="2.15" ry="1.9" fill="#ff2a2a"/>
<ellipse cx="616.67" cy="404.03" rx="2.15" ry="1.9" fill="#ff2a2a"/>
<ellipse cx="642.39" cy="408.96" rx="2.15" ry="1.9" fill="#ff2a2a"/>
<ellipse cx="654.6" cy="405.79" rx="2.15" ry="1.9" fill="#ff2a2a"/>
<ellipse cx="676.79" cy="408.08" rx="2.15" ry="1.9" fill="#ff2a2a"/>
<path d="M429.67 434.17L432.27 438.46L427.07 438.46Z" fill="#2262e0"/>
<path d="M452.74 450.01L455.34 454.3L450.14 454.3Z" fill="#2262e0"/>
<path d="M490.67 454.23L493.27 458.52L488.07 458.52Z" fill="#2262e0"/>
<path d="M506.03 418.33L508.63 422.62L503.43 422.62Z" fill="#2262e0"/>
<path d="M516.39 398.97L518.99 403.26L513.79 403.26Z" fill="#2262e0"/>
<path d="M528.6 405.3L531.2 409.59L526 409.59Z" fill="#2262e0"/>
<path d="M566.53 407.06L569.13 411.35L563.93 411.35Z" fill="#2262e0"/>
<path d="M616.67 412.34L619.27 416.63L614.07 416.63Z" fill="#2262e0"/>
<path d="M642.39 407.59L644.99 411.88L639.79 411.88Z" fill="#2262e0"/>
<path d="M654.6 404.07L657.2 408.36L652 408.36Z" fill="#2262e0"/>
<path d="M676.79 410.58L679.39 414.87L674.19 414.87Z" fill="#2262e0"/>
<path d="M429.67 399.59L432.27 395.3L427.07 395.3Z" fill="#1f9a56"/>
<path d="M452.74 409.59L455.34 405.3L450.14 405.3Z" fill="#1f9a56"/>
<path d="M490.67 402.76L493.27 398.47L488.07 398.47Z" fill="#1f9a56"/>
<path d="M506.03 368.97L508.63 364.68L503.43 364.68Z" fill="#1f9a56"/>
<path d="M516.39 383.05L518.99 378.76L513.79 378.76Z" fill="#1f9a56"/>
<path d="M528.6 407.69L531.2 403.4L526 403.4Z" fill="#1f9a56"/>
<path d="M566.53 401L569.13 396.71L563.93 396.71Z" fill="#1f9a56"/>
<path d="M616.67 410.5L619.27 406.21L614.07 406.21Z" fill="#1f9a56"/>
<path d="M642.39 411.56L644.99 407.27L639.79 407.27Z" fill="#1f9a56"/>
<path d="M654.6 407.69L657.2 403.4L652 403.4Z" fill="#1f9a56"/>
<path d="M676.79 412.79L679.39 408.5L674.19 408.5Z" fill="#1f9a56"/>
<path d="M429.67 451.52L432.17 454.02L429.67 456.52L427.17 454.02Z" fill="#b070e8"/>
<path d="M452.74 437.44L455.24 439.94L452.74 442.44L450.24 439.94Z" fill="#b070e8"/>
<path d="M490.67 454.33L493.17 456.83L490.67 459.33L488.17 456.83Z" fill="#b070e8"/>
<path d="M506.03 404.21L508.53 406.71L506.03 409.21L503.53 406.71Z" fill="#b070e8"/>
<path d="M516.39 392.03L518.89 394.53L516.39 397.03L513.89 394.53Z" fill="#b070e8"/>
<path d="M528.6 407.69L531.1 410.19L528.6 412.69L526.1 410.19Z" fill="#b070e8"/>
<path d="M566.53 413.85L569.03 416.35L566.53 418.85L564.03 416.35Z" fill="#b070e8"/>
<path d="M616.67 432.86L619.17 435.36L616.67 437.86L614.17 435.36Z" fill="#b070e8"/>
<path d="M642.39 436.73L644.89 439.23L642.39 441.73L639.89 439.23Z" fill="#b070e8"/>
<path d="M654.6 434.62L657.1 437.12L654.6 439.62L652.1 437.12Z" fill="#b070e8"/>
<path d="M676.79 425.47L679.29 427.97L676.79 430.47L674.29 427.97Z" fill="#b070e8"/>
<path d="M427.07 462.46L431.36 459.86L431.36 465.06Z" fill="#c88a00"/>
<path d="M450.14 456.13L454.43 453.53L454.43 458.73Z" fill="#c88a00"/>
<path d="M488.07 486.4L492.36 483.8L492.36 489Z" fill="#c88a00"/>
<path d="M503.43 424.45L507.72 421.85L507.72 427.05Z" fill="#c88a00"/>
<path d="M513.79 402.27L518.08 399.67L518.08 404.87Z" fill="#c88a00"/>
<path d="M526 414.94L530.29 412.34L530.29 417.54Z" fill="#c88a00"/>
<path d="M563.93 418.46L568.22 415.86L568.22 421.06Z" fill="#c88a00"/>
<path d="M614.07 439.58L618.36 436.98L618.36 442.18Z" fill="#c88a00"/>
<path d="M639.79 443.1L644.08 440.5L644.08 445.7Z" fill="#c88a00"/>
<path d="M652 444.86L656.29 442.26L656.29 447.46Z" fill="#c88a00"/>
<path d="M674.19 442.4L678.48 439.8L678.48 445Z" fill="#c88a00"/>
<path d="M427.37 386.11h4.6v1.1h-4.6zM429.02 384.91h1.3v3.4h-1.3z" fill="#e81818" fill-opacity="0.6"/>
<path d="M450.44 395.19h4.6v1.1h-4.6zM452.09 393.99h1.3v3.4h-1.3z" fill="#e81818" fill-opacity="0.6"/>
<path d="M488.37 347.21h4.6v1.1h-4.6zM490.02 346.01h1.3v3.4h-1.3z" fill="#e81818" fill-opacity="0.6"/>
<path d="M503.73 348.97h4.6v1.1h-4.6zM505.38 347.77h1.3v3.4h-1.3z" fill="#e81818" fill-opacity="0.6"/>
<path d="M514.09 369.39h4.6v1.1h-4.6zM515.74 368.19h1.3v3.4h-1.3z" fill="#e81818" fill-opacity="0.6"/>
<path d="M526.3 394.03h4.6v1.1h-4.6zM527.95 392.83h1.3v3.4h-1.3z" fill="#e81818" fill-opacity="0.6"/>
<path d="M564.23 312.72h4.6v1.1h-4.6zM565.88 311.52h1.3v3.4h-1.3z" fill="#e81818" fill-opacity="0.6"/>
<path d="M614.37 394.38h4.6v1.1h-4.6zM616.02 393.18h1.3v3.4h-1.3z" fill="#e81818" fill-opacity="0.6"/>
<path d="M640.09 391.56h4.6v1.1h-4.6zM641.74 390.36h1.3v3.4h-1.3z" fill="#e81818" fill-opacity="0.6"/>
<path d="M652.3 394.03h4.6v1.1h-4.6zM653.95 392.83h1.3v3.4h-1.3z" fill="#e81818" fill-opacity="0.6"/>
<path d="M674.49 404.1h4.6v1.1h-4.6zM676.14 402.9h1.3v3.4h-1.3z" fill="#e81818" fill-opacity="0.6"/>
<path d="M427.37 436.27h4.6v1.1h-4.6zM429.02 435.07h1.3v3.4h-1.3z" fill="#e81818" fill-opacity="0.6"/>
<path d="M450.44 452.11h4.6v1.1h-4.6zM452.09 450.91h1.3v3.4h-1.3z" fill="#e81818" fill-opacity="0.6"/>
<path d="M488.37 456.33h4.6v1.1h-4.6zM490.02 455.13h1.3v3.4h-1.3z" fill="#e81818" fill-opacity="0.6"/>
<path d="M503.73 420.43h4.6v1.1h-4.6zM505.38 419.23h1.3v3.4h-1.3z" fill="#e81818" fill-opacity="0.6"/>
<path d="M514.09 401.07h4.6v1.1h-4.6zM515.74 399.87h1.3v3.4h-1.3z" fill="#e81818" fill-opacity="0.6"/>
<path d="M526.3 407.4h4.6v1.1h-4.6zM527.95 406.2h1.3v3.4h-1.3z" fill="#e81818" fill-opacity="0.6"/>
<path d="M564.23 409.16h4.6v1.1h-4.6zM565.88 407.96h1.3v3.4h-1.3z" fill="#e81818" fill-opacity="0.6"/>
<path d="M614.37 414.44h4.6v1.1h-4.6zM616.02 413.24h1.3v3.4h-1.3z" fill="#e81818" fill-opacity="0.6"/>
<path d="M640.09 409.69h4.6v1.1h-4.6zM641.74 408.49h1.3v3.4h-1.3z" fill="#e81818" fill-opacity="0.6"/>
<path d="M652.3 406.17h4.6v1.1h-4.6zM653.95 404.97h1.3v3.4h-1.3z" fill="#e81818" fill-opacity="0.6"/>
<path d="M674.49 412.68h4.6v1.1h-4.6zM676.14 411.48h1.3v3.4h-1.3z" fill="#e81818" fill-opacity="0.6"/>
<path d="M427.37 396.49h4.6v1.1h-4.6zM429.02 395.29h1.3v3.4h-1.3z" fill="#e81818" fill-opacity="0.6"/>
<path d="M450.44 406.49h4.6v1.1h-4.6zM452.09 405.29h1.3v3.4h-1.3z" fill="#e81818" fill-opacity="0.6"/>
<path d="M488.37 399.66h4.6v1.1h-4.6zM490.02 398.46h1.3v3.4h-1.3z" fill="#e81818" fill-opacity="0.6"/>
<path d="M503.73 365.87h4.6v1.1h-4.6zM505.38 364.67h1.3v3.4h-1.3z" fill="#e81818" fill-opacity="0.6"/>
<path d="M514.09 379.95h4.6v1.1h-4.6zM515.74 378.75h1.3v3.4h-1.3z" fill="#e81818" fill-opacity="0.6"/>
<path d="M526.3 404.59h4.6v1.1h-4.6zM527.95 403.39h1.3v3.4h-1.3z" fill="#e81818" fill-opacity="0.6"/>
<path d="M564.23 397.9h4.6v1.1h-4.6zM565.88 396.7h1.3v3.4h-1.3z" fill="#e81818" fill-opacity="0.6"/>
<path d="M614.37 407.4h4.6v1.1h-4.6zM616.02 406.2h1.3v3.4h-1.3z" fill="#e81818" fill-opacity="0.6"/>
<path d="M640.09 408.46h4.6v1.1h-4.6zM641.74 407.26h1.3v3.4h-1.3z" fill="#e81818" fill-opacity="0.6"/>
<path d="M652.3 404.59h4.6v1.1h-4.6zM653.95 403.39h1.3v3.4h-1.3z" fill="#e81818" fill-opacity="0.6"/>
<path d="M674.49 409.69h4.6v1.1h-4.6zM676.14 408.49h1.3v3.4h-1.3z" fill="#e81818" fill-opacity="0.6"/>
<path d="M427.37 453.52h4.6v1.1h-4.6zM429.02 452.32h1.3v3.4h-1.3z" fill="#e81818" fill-opacity="0.6"/>
<path d="M450.44 439.44h4.6v1.1h-4.6zM452.09 438.24h1.3v3.4h-1.3z" fill="#e81818" fill-opacity="0.6"/>
<path d="M488.37 456.33h4.6v1.1h-4.6zM490.02 455.13h1.3v3.4h-1.3z" fill="#e81818" fill-opacity="0.6"/>
<path d="M503.73 406.21h4.6v1.1h-4.6zM505.38 405.01h1.3v3.4h-1.3z" fill="#e81818" fill-opacity="0.6"/>
<path d="M514.09 394.03h4.6v1.1h-4.6zM515.74 392.83h1.3v3.4h-1.3z" fill="#e81818" fill-opacity="0.6"/>
<path d="M526.3 409.69h4.6v1.1h-4.6zM527.95 408.49h1.3v3.4h-1.3z" fill="#e81818" fill-opacity="0.6"/>
<path d="M564.23 415.85h4.6v1.1h-4.6zM565.88 414.65h1.3v3.4h-1.3z" fill="#e81818" fill-opacity="0.6"/>
<path d="M614.37 434.86h4.6v1.1h-4.6zM616.02 433.66h1.3v3.4h-1.3z" fill="#e81818" fill-opacity="0.6"/>
<path d="M640.09 438.73h4.6v1.1h-4.6zM641.74 437.53h1.3v3.4h-1.3z" fill="#e81818" fill-opacity="0.6"/>
<path d="M652.3 436.62h4.6v1.1h-4.6zM653.95 435.42h1.3v3.4h-1.3z" fill="#e81818" fill-opacity="0.6"/>
<path d="M674.49 427.47h4.6v1.1h-4.6zM676.14 426.27h1.3v3.4h-1.3z" fill="#e81818" fill-opacity="0.6"/>
<path d="M427.37 461.96h4.6v1.1h-4.6zM429.02 460.76h1.3v3.4h-1.3z" fill="#e81818" fill-opacity="0.6"/>
<path d="M450.44 455.63h4.6v1.1h-4.6zM452.09 454.43h1.3v3.4h-1.3z" fill="#e81818" fill-opacity="0.6"/>
<path d="M488.37 485.9h4.6v1.1h-4.6zM490.02 484.7h1.3v3.4h-1.3z" fill="#e81818" fill-opacity="0.6"/>
<path d="M503.73 423.95h4.6v1.1h-4.6zM505.38 422.75h1.3v3.4h-1.3z" fill="#e81818" fill-opacity="0.6"/>
<path d="M514.09 401.77h4.6v1.1h-4.6zM515.74 400.57h1.3v3.4h-1.3z" fill="#e81818" fill-opacity="0.6"/>
<path d="M526.3 414.44h4.6v1.1h-4.6zM527.95 413.24h1.3v3.4h-1.3z" fill="#e81818" fill-opacity="0.6"/>
<path d="M564.23 417.96h4.6v1.1h-4.6zM565.88 416.76h1.3v3.4h-1.3z" fill="#e81818" fill-opacity="0.6"/>
<path d="M614.37 439.08h4.6v1.1h-4.6zM616.02 437.88h1.3v3.4h-1.3z" fill="#e81818" fill-opacity="0.6"/>
<path d="M640.09 442.6h4.6v1.1h-4.6zM641.74 441.4h1.3v3.4h-1.3z" fill="#e81818" fill-opacity="0.6"/>
<path d="M652.3 444.36h4.6v1.1h-4.6zM653.95 443.16h1.3v3.4h-1.3z" fill="#e81818" fill-opacity="0.6"/>
<path d="M674.49 441.9h4.6v1.1h-4.6zM676.14 440.7h1.3v3.4h-1.3z" fill="#e81818" fill-opacity="0.6"/>
<path d="M422.2 301.6V512.8H683.8" fill="none" stroke="#333" stroke-width="1.1"/>
<path d="M418.2 301.6H422.2M420 319.2H422.2M418.2 336.8H422.2M420 354.4H422.2M418.2 372H422.2M420 389.6H422.2M418.2 407.2H422.2M420 424.8H422.2M418.2 442.4H422.2M420 460H422.2M418.2 477.6H422.2M420 495.2H422.2M418.2 512.8H422.2M452.74 512.8V516.6M490.67 512.8V516.6M528.6 512.8V516.6M566.53 512.8V516.6M604.46 512.8V516.6M642.39 512.8V516.6M680.32 512.8V516.6" fill="none" stroke="#333" stroke-width="1"/>
<g font-family="Liberation Serif" font-weight="bold" font-size="9.4" fill="#111"><text x="415.1" y="304.7" text-anchor="end">30</text><text x="415.1" y="339.9" text-anchor="end">20</text><text x="415.1" y="375.1" text-anchor="end">10</text><text x="415.1" y="410.3" text-anchor="end">0</text><text x="415.1" y="445.5" text-anchor="end">-10</text><text x="415.1" y="480.7" text-anchor="end">-20</text><text x="415.1" y="515.9" text-anchor="end">-30</text><text x="452.74" y="527.1" text-anchor="middle">0.25</text><text x="490.67" y="527.1" text-anchor="middle">0.5</text><text x="528.6" y="527.1" text-anchor="middle">1</text><text x="566.53" y="527.1" text-anchor="middle">2</text><text x="604.46" y="527.1" text-anchor="middle">4</text><text x="642.39" y="527.1" text-anchor="middle">8</text><text x="680.32" y="527.1" text-anchor="middle">16</text></g>
<text x="553" y="544.1" text-anchor="middle" font-family="Liberation Serif" font-weight="bold" font-size="10.93" fill="#111">Energy (MeV)</text>
<text transform="translate(395.1 502.2) rotate(-90)" font-family="Liberation Serif" font-weight="bold" font-size="10.93" fill="#111">RC reduction normalised to concrete (%)</text>
<rect x="510.2" y="446.7" width="117.5" height="60.5" fill="#fff" stroke="#9a9a9a" stroke-width="1"/>
<path d="M511 452.3H528.6" stroke="#cacaca" stroke-width="1"/>
<rect x="518.2" y="450.8" width="3.2" height="3" rx="0.3" fill="#333333"/>
<text x="531.2" y="455.2" font-family="Liberation Serif" font-size="8.0" fill="#222">LDPE 20% 100 nanometer W</text>
<path d="M511 462.1H528.6" stroke="#ffb4b4" stroke-width="1"/>
<ellipse cx="519.8" cy="462.1" rx="1.61" ry="1.42" fill="#ff2a2a"/>
<text x="531.2" y="465" font-family="Liberation Serif" font-size="8.0" fill="#222">LDPE 20% 10 micrometer W</text>
<path d="M511 472.1H528.6" stroke="#98b8f4" stroke-width="1"/>
<path d="M519.8 470.15L521.75 473.37L517.85 473.37Z" fill="#2262e0"/>
<text x="531.2" y="475" font-family="Liberation Serif" font-size="8.0" fill="#222">LDPE 20% Bulk W</text>
<path d="M511 482.2H528.6" stroke="#8ed2aa" stroke-width="1"/>
<path d="M519.8 484.15L521.75 480.93L517.85 480.93Z" fill="#1f9a56"/>
<text x="531.2" y="485.1" font-family="Liberation Serif" font-size="8.0" fill="#222">LDPE 5% 100 nanometer W</text>
<path d="M511 491.8H528.6" stroke="#dcbcf8" stroke-width="1"/>
<path d="M519.8 489.93L521.67 491.8L519.8 493.68L517.92 491.8Z" fill="#b070e8"/>
<text x="531.2" y="494.7" font-family="Liberation Serif" font-size="8.0" fill="#222">LDPE 5% 10 micrometer W</text>
<path d="M511 501.4H528.6" stroke="#ecc870" stroke-width="1"/>
<path d="M517.85 501.4L521.07 499.45L521.07 503.35Z" fill="#c88a00"/>
<text x="531.2" y="504.3" font-family="Liberation Serif" font-size="8.0" fill="#222">LDPE 5% Bulk W</text>
<polyline points="237.19,675.17 260.3,695.21 298.3,622.97 313.69,624.03 324.07,648.81 336.3,624.82 374.3,641.43 424.53,698.37 450.3,707.86 462.53,688.88 484.76,713.66" fill="none" stroke="#ababab" stroke-width="0.75"/>
<polyline points="237.19,730.53 260.3,750.57 298.3,653.55 313.69,661.46 324.07,653.55 336.3,671.74 374.3,661.46 424.53,724.73 450.3,714.71 462.53,684.13 484.76,724.73" fill="none" stroke="#ffb4b4" stroke-width="0.75"/>
<polyline points="237.19,716.3 260.3,758.48 298.3,682.02 313.69,684.13 324.07,674.12 336.3,744.24 374.3,724.99 424.53,712.08 450.3,737.91 462.53,698.9 484.76,707.02" fill="none" stroke="#98b8f4" stroke-width="0.75"/>
<polyline points="237.19,701.53 260.3,712.6 298.3,693.1 313.69,632.99 324.07,663.57 336.3,714.71 374.3,722.09 424.53,704.7 450.3,737.91 462.53,697.84 484.76,716.3" fill="none" stroke="#8ed2aa" stroke-width="0.75"/>
<polyline points="237.19,742.13 260.3,750.57 298.3,694.15 313.69,707.33 324.07,693.1 336.3,703.32 374.3,669.37 424.53,726.31 450.3,724.99 462.53,717.35 484.76,719.99" fill="none" stroke="#dcbcf8" stroke-width="0.75"/>
<polyline points="237.19,724.73 260.3,762.69 298.3,697.31 313.69,718.4 324.07,705.75 336.3,759.53 374.3,726.84 424.53,729.48 450.3,740.55 462.53,701.53 484.76,725.52" fill="none" stroke="#ecc870" stroke-width="0.75"/>
<rect x="235.04" y="673.62" width="4.3" height="3.1" rx="1" fill="#333333"/>
<rect x="258.15" y="693.66" width="4.3" height="3.1" rx="1" fill="#333333"/>
<rect x="296.15" y="621.42" width="4.3" height="3.1" rx="1" fill="#333333"/>
<rect x="311.54" y="622.48" width="4.3" height="3.1" rx="1" fill="#333333"/>
<rect x="321.92" y="647.26" width="4.3" height="3.1" rx="1" fill="#333333"/>
<rect x="334.15" y="623.27" width="4.3" height="3.1" rx="1" fill="#333333"/>
<rect x="372.15" y="639.88" width="4.3" height="3.1" rx="1" fill="#333333"/>
<rect x="422.38" y="696.82" width="4.3" height="3.1" rx="1" fill="#333333"/>
<rect x="448.15" y="706.31" width="4.3" height="3.1" rx="1" fill="#333333"/>
<rect x="460.38" y="687.33" width="4.3" height="3.1" rx="1" fill="#333333"/>
<rect x="482.61" y="712.11" width="4.3" height="3.1" rx="1" fill="#333333"/>
<ellipse cx="237.19" cy="730.53" rx="2.15" ry="1.9" fill="#ff2a2a"/>
<ellipse cx="260.3" cy="750.57" rx="2.15" ry="1.9" fill="#ff2a2a"/>
<ellipse cx="298.3" cy="653.55" rx="2.15" ry="1.9" fill="#ff2a2a"/>
<ellipse cx="313.69" cy="661.46" rx="2.15" ry="1.9" fill="#ff2a2a"/>
<ellipse cx="324.07" cy="653.55" rx="2.15" ry="1.9" fill="#ff2a2a"/>
<ellipse cx="336.3" cy="671.74" rx="2.15" ry="1.9" fill="#ff2a2a"/>
<ellipse cx="374.3" cy="661.46" rx="2.15" ry="1.9" fill="#ff2a2a"/>
<ellipse cx="424.53" cy="724.73" rx="2.15" ry="1.9" fill="#ff2a2a"/>
<ellipse cx="450.3" cy="714.71" rx="2.15" ry="1.9" fill="#ff2a2a"/>
<ellipse cx="462.53" cy="684.13" rx="2.15" ry="1.9" fill="#ff2a2a"/>
<ellipse cx="484.76" cy="724.73" rx="2.15" ry="1.9" fill="#ff2a2a"/>
<path d="M237.19 713.7L239.79 717.99L234.59 717.99Z" fill="#2262e0"/>
<path d="M260.3 755.88L262.9 760.17L257.7 760.17Z" fill="#2262e0"/>
<path d="M298.3 679.42L300.9 683.71L295.7 683.71Z" fill="#2262e0"/>
<path d="M313.69 681.53L316.29 685.82L311.09 685.82Z" fill="#2262e0"/>
<path d="M324.07 671.51L326.67 675.81L321.47 675.81Z" fill="#2262e0"/>
<path d="M336.3 741.64L338.9 745.93L333.7 745.93Z" fill="#2262e0"/>
<path d="M374.3 722.39L376.9 726.68L371.7 726.68Z" fill="#2262e0"/>
<path d="M424.53 709.48L427.13 713.77L421.93 713.77Z" fill="#2262e0"/>
<path d="M450.3 735.31L452.9 739.6L447.7 739.6Z" fill="#2262e0"/>
<path d="M462.53 696.3L465.13 700.59L459.93 700.59Z" fill="#2262e0"/>
<path d="M484.76 704.42L487.36 708.71L482.16 708.71Z" fill="#2262e0"/>
<path d="M237.19 704.13L239.79 699.84L234.59 699.84Z" fill="#1f9a56"/>
<path d="M260.3 715.2L262.9 710.91L257.7 710.91Z" fill="#1f9a56"/>
<path d="M298.3 695.7L300.9 691.41L295.7 691.41Z" fill="#1f9a56"/>
<path d="M313.69 635.59L316.29 631.3L311.09 631.3Z" fill="#1f9a56"/>
<path d="M324.07 666.17L326.67 661.88L321.47 661.88Z" fill="#1f9a56"/>
<path d="M336.3 717.31L338.9 713.02L333.7 713.02Z" fill="#1f9a56"/>
<path d="M374.3 724.69L376.9 720.4L371.7 720.4Z" fill="#1f9a56"/>
<path d="M424.53 707.3L427.13 703.01L421.93 703.01Z" fill="#1f9a56"/>
<path d="M450.3 740.51L452.9 736.22L447.7 736.22Z" fill="#1f9a56"/>
<path d="M462.53 700.44L465.13 696.15L459.93 696.15Z" fill="#1f9a56"/>
<path d="M484.76 718.9L487.36 714.61L482.16 714.61Z" fill="#1f9a56"/>
<path d="M237.19 739.63L239.69 742.13L237.19 744.63L234.69 742.13Z" fill="#b070e8"/>
<path d="M260.3 748.07L262.8 750.57L260.3 753.07L257.8 750.57Z" fill="#b070e8"/>
<path d="M298.3 691.65L300.8 694.15L298.3 696.65L295.8 694.15Z" fill="#b070e8"/>
<path d="M313.69 704.83L316.19 707.33L313.69 709.83L311.19 707.33Z" fill="#b070e8"/>
<path d="M324.07 690.6L326.57 693.1L324.07 695.6L321.57 693.1Z" fill="#b070e8"/>
<path d="M336.3 700.82L338.8 703.32L336.3 705.82L333.8 703.32Z" fill="#b070e8"/>
<path d="M374.3 666.87L376.8 669.37L374.3 671.87L371.8 669.37Z" fill="#b070e8"/>
<path d="M424.53 723.81L427.03 726.31L424.53 728.81L422.03 726.31Z" fill="#b070e8"/>
<path d="M450.3 722.49L452.8 724.99L450.3 727.49L447.8 724.99Z" fill="#b070e8"/>
<path d="M462.53 714.85L465.03 717.35L462.53 719.85L460.03 717.35Z" fill="#b070e8"/>
<path d="M484.76 717.49L487.26 719.99L484.76 722.49L482.26 719.99Z" fill="#b070e8"/>
<path d="M234.59 724.73L238.88 722.13L238.88 727.33Z" fill="#c88a00"/>
<path d="M257.7 762.69L261.99 760.09L261.99 765.29Z" fill="#c88a00"/>
<path d="M295.7 697.31L299.99 694.71L299.99 699.91Z" fill="#c88a00"/>
<path d="M311.09 718.4L315.38 715.8L315.38 721Z" fill="#c88a00"/>
<path d="M321.47 705.75L325.76 703.15L325.76 708.35Z" fill="#c88a00"/>
<path d="M333.7 759.53L337.99 756.93L337.99 762.13Z" fill="#c88a00"/>
<path d="M371.7 726.84L375.99 724.24L375.99 729.44Z" fill="#c88a00"/>
<path d="M421.93 729.48L426.22 726.88L426.22 732.08Z" fill="#c88a00"/>
<path d="M447.7 740.55L451.99 737.95L451.99 743.15Z" fill="#c88a00"/>
<path d="M459.93 701.53L464.22 698.93L464.22 704.13Z" fill="#c88a00"/>
<path d="M482.16 725.52L486.45 722.92L486.45 728.12Z" fill="#c88a00"/>
<path d="M234.89 674.67h4.6v1.1h-4.6zM236.54 673.47h1.3v3.4h-1.3z" fill="#e81818" fill-opacity="0.6"/>
<path d="M258 694.71h4.6v1.1h-4.6zM259.65 693.5h1.3v3.4h-1.3z" fill="#e81818" fill-opacity="0.6"/>
<path d="M296 622.47h4.6v1.1h-4.6zM297.65 621.27h1.3v3.4h-1.3z" fill="#e81818" fill-opacity="0.6"/>
<path d="M311.39 623.53h4.6v1.1h-4.6zM313.04 622.33h1.3v3.4h-1.3z" fill="#e81818" fill-opacity="0.6"/>
<path d="M321.77 648.31h4.6v1.1h-4.6zM323.42 647.11h1.3v3.4h-1.3z" fill="#e81818" fill-opacity="0.6"/>
<path d="M334 624.32h4.6v1.1h-4.6zM335.65 623.12h1.3v3.4h-1.3z" fill="#e81818" fill-opacity="0.6"/>
<path d="M372 640.93h4.6v1.1h-4.6zM373.65 639.73h1.3v3.4h-1.3z" fill="#e81818" fill-opacity="0.6"/>
<path d="M422.23 697.87h4.6v1.1h-4.6zM423.88 696.67h1.3v3.4h-1.3z" fill="#e81818" fill-opacity="0.6"/>
<path d="M448 707.36h4.6v1.1h-4.6zM449.65 706.16h1.3v3.4h-1.3z" fill="#e81818" fill-opacity="0.6"/>
<path d="M460.23 688.38h4.6v1.1h-4.6zM461.88 687.18h1.3v3.4h-1.3z" fill="#e81818" fill-opacity="0.6"/>
<path d="M482.46 713.16h4.6v1.1h-4.6zM484.11 711.96h1.3v3.4h-1.3z" fill="#e81818" fill-opacity="0.6"/>
<path d="M234.89 715.8h4.6v1.1h-4.6zM236.54 714.6h1.3v3.4h-1.3z" fill="#e81818" fill-opacity="0.6"/>
<path d="M258 757.98h4.6v1.1h-4.6zM259.65 756.77h1.3v3.4h-1.3z" fill="#e81818" fill-opacity="0.6"/>
<path d="M296 681.52h4.6v1.1h-4.6zM297.65 680.32h1.3v3.4h-1.3z" fill="#e81818" fill-opacity="0.6"/>
<path d="M311.39 683.63h4.6v1.1h-4.6zM313.04 682.43h1.3v3.4h-1.3z" fill="#e81818" fill-opacity="0.6"/>
<path d="M321.77 673.62h4.6v1.1h-4.6zM323.42 672.41h1.3v3.4h-1.3z" fill="#e81818" fill-opacity="0.6"/>
<path d="M334 743.74h4.6v1.1h-4.6zM335.65 742.54h1.3v3.4h-1.3z" fill="#e81818" fill-opacity="0.6"/>
<path d="M372 724.49h4.6v1.1h-4.6zM373.65 723.29h1.3v3.4h-1.3z" fill="#e81818" fill-opacity="0.6"/>
<path d="M422.23 711.58h4.6v1.1h-4.6zM423.88 710.38h1.3v3.4h-1.3z" fill="#e81818" fill-opacity="0.6"/>
<path d="M448 737.41h4.6v1.1h-4.6zM449.65 736.21h1.3v3.4h-1.3z" fill="#e81818" fill-opacity="0.6"/>
<path d="M460.23 698.4h4.6v1.1h-4.6zM461.88 697.2h1.3v3.4h-1.3z" fill="#e81818" fill-opacity="0.6"/>
<path d="M482.46 706.52h4.6v1.1h-4.6zM484.11 705.32h1.3v3.4h-1.3z" fill="#e81818" fill-opacity="0.6"/>
<path d="M234.89 701.03h4.6v1.1h-4.6zM236.54 699.83h1.3v3.4h-1.3z" fill="#e81818" fill-opacity="0.6"/>
<path d="M258 712.1h4.6v1.1h-4.6zM259.65 710.9h1.3v3.4h-1.3z" fill="#e81818" fill-opacity="0.6"/>
<path d="M296 692.6h4.6v1.1h-4.6zM297.65 691.4h1.3v3.4h-1.3z" fill="#e81818" fill-opacity="0.6"/>
<path d="M311.39 632.49h4.6v1.1h-4.6zM313.04 631.29h1.3v3.4h-1.3z" fill="#e81818" fill-opacity="0.6"/>
<path d="M321.77 663.07h4.6v1.1h-4.6zM323.42 661.87h1.3v3.4h-1.3z" fill="#e81818" fill-opacity="0.6"/>
<path d="M334 714.21h4.6v1.1h-4.6zM335.65 713.01h1.3v3.4h-1.3z" fill="#e81818" fill-opacity="0.6"/>
<path d="M372 721.59h4.6v1.1h-4.6zM373.65 720.39h1.3v3.4h-1.3z" fill="#e81818" fill-opacity="0.6"/>
<path d="M422.23 704.2h4.6v1.1h-4.6zM423.88 703h1.3v3.4h-1.3z" fill="#e81818" fill-opacity="0.6"/>
<path d="M448 737.41h4.6v1.1h-4.6zM449.65 736.21h1.3v3.4h-1.3z" fill="#e81818" fill-opacity="0.6"/>
<path d="M460.23 697.34h4.6v1.1h-4.6zM461.88 696.14h1.3v3.4h-1.3z" fill="#e81818" fill-opacity="0.6"/>
<path d="M482.46 715.8h4.6v1.1h-4.6zM484.11 714.6h1.3v3.4h-1.3z" fill="#e81818" fill-opacity="0.6"/>
<path d="M234.89 741.63h4.6v1.1h-4.6zM236.54 740.43h1.3v3.4h-1.3z" fill="#e81818" fill-opacity="0.6"/>
<path d="M258 750.07h4.6v1.1h-4.6zM259.65 748.87h1.3v3.4h-1.3z" fill="#e81818" fill-opacity="0.6"/>
<path d="M296 693.65h4.6v1.1h-4.6zM297.65 692.45h1.3v3.4h-1.3z" fill="#e81818" fill-opacity="0.6"/>
<path d="M311.39 706.83h4.6v1.1h-4.6zM313.04 705.63h1.3v3.4h-1.3z" fill="#e81818" fill-opacity="0.6"/>
<path d="M321.77 692.6h4.6v1.1h-4.6zM323.42 691.4h1.3v3.4h-1.3z" fill="#e81818" fill-opacity="0.6"/>
<path d="M334 702.82h4.6v1.1h-4.6zM335.65 701.62h1.3v3.4h-1.3z" fill="#e81818" fill-opacity="0.6"/>
<path d="M372 668.87h4.6v1.1h-4.6zM373.65 667.67h1.3v3.4h-1.3z" fill="#e81818" fill-opacity="0.6"/>
<path d="M422.23 725.81h4.6v1.1h-4.6zM423.88 724.61h1.3v3.4h-1.3z" fill="#e81818" fill-opacity="0.6"/>
<path d="M448 724.49h4.6v1.1h-4.6zM449.65 723.29h1.3v3.4h-1.3z" fill="#e81818" fill-opacity="0.6"/>
<path d="M460.23 716.85h4.6v1.1h-4.6zM461.88 715.65h1.3v3.4h-1.3z" fill="#e81818" fill-opacity="0.6"/>
<path d="M482.46 719.49h4.6v1.1h-4.6zM484.11 718.29h1.3v3.4h-1.3z" fill="#e81818" fill-opacity="0.6"/>
<path d="M234.89 724.23h4.6v1.1h-4.6zM236.54 723.03h1.3v3.4h-1.3z" fill="#e81818" fill-opacity="0.6"/>
<path d="M258 762.19h4.6v1.1h-4.6zM259.65 760.99h1.3v3.4h-1.3z" fill="#e81818" fill-opacity="0.6"/>
<path d="M296 696.81h4.6v1.1h-4.6zM297.65 695.61h1.3v3.4h-1.3z" fill="#e81818" fill-opacity="0.6"/>
<path d="M311.39 717.9h4.6v1.1h-4.6zM313.04 716.7h1.3v3.4h-1.3z" fill="#e81818" fill-opacity="0.6"/>
<path d="M321.77 705.25h4.6v1.1h-4.6zM323.42 704.05h1.3v3.4h-1.3z" fill="#e81818" fill-opacity="0.6"/>
<path d="M334 759.03h4.6v1.1h-4.6zM335.65 757.83h1.3v3.4h-1.3z" fill="#e81818" fill-opacity="0.6"/>
<path d="M372 726.34h4.6v1.1h-4.6zM373.65 725.14h1.3v3.4h-1.3z" fill="#e81818" fill-opacity="0.6"/>
<path d="M422.23 728.98h4.6v1.1h-4.6zM423.88 727.78h1.3v3.4h-1.3z" fill="#e81818" fill-opacity="0.6"/>
<path d="M448 740.05h4.6v1.1h-4.6zM449.65 738.85h1.3v3.4h-1.3z" fill="#e81818" fill-opacity="0.6"/>
<path d="M460.23 701.03h4.6v1.1h-4.6zM461.88 699.83h1.3v3.4h-1.3z" fill="#e81818" fill-opacity="0.6"/>
<path d="M482.46 725.02h4.6v1.1h-4.6zM484.11 723.82h1.3v3.4h-1.3z" fill="#e81818" fill-opacity="0.6"/>
<path d="M229.4 600.3V811.2H491.6" fill="none" stroke="#333" stroke-width="1.1"/>
<path d="M225.4 600.3H229.4M227.2 626.66H229.4M225.4 653.02H229.4M227.2 679.39H229.4M225.4 705.75H229.4M227.2 732.11H229.4M225.4 758.48H229.4M227.2 784.84H229.4M225.4 811.2H229.4M260.3 811.2V815M298.3 811.2V815M336.3 811.2V815M374.3 811.2V815M412.3 811.2V815M450.3 811.2V815M488.3 811.2V815" fill="none" stroke="#333" stroke-width="1"/>
<g font-family="Liberation Serif" font-weight="bold" font-size="9.4" fill="#111"><text x="222.3" y="603.4" text-anchor="end">20</text><text x="222.3" y="656.12" text-anchor="end">10</text><text x="222.3" y="708.85" text-anchor="end">0</text><text x="222.3" y="761.58" text-anchor="end">-10</text><text x="222.3" y="814.3" text-anchor="end">-20</text><text x="260.3" y="825.5" text-anchor="middle">0.25</text><text x="298.3" y="825.5" text-anchor="middle">0.5</text><text x="336.3" y="825.5" text-anchor="middle">1</text><text x="374.3" y="825.5" text-anchor="middle">2</text><text x="412.3" y="825.5" text-anchor="middle">4</text><text x="450.3" y="825.5" text-anchor="middle">8</text><text x="488.3" y="825.5" text-anchor="middle">16</text></g>
<text x="360.5" y="842.5" text-anchor="middle" font-family="Liberation Serif" font-weight="bold" font-size="10.93" fill="#111">Energy (MeV)</text>
<text transform="translate(202.8 800.8) rotate(-90)" font-family="Liberation Serif" font-weight="bold" font-size="10.93" fill="#111">RC reduction normalised to concrete (%)</text>
<rect x="385.3" y="581.8" width="119.4" height="60.3" fill="#fff" stroke="#9a9a9a" stroke-width="1"/>
<path d="M386.8 587.1H404.4" stroke="#cacaca" stroke-width="1"/>
<rect x="394" y="585.6" width="3.2" height="3" rx="0.3" fill="#333333"/>
<text x="406.1" y="590" font-family="Liberation Serif" font-size="8.0" fill="#222">LDPE 20% 100 nanometer Zn</text>
<path d="M386.8 597.1H404.4" stroke="#ffb4b4" stroke-width="1"/>
<ellipse cx="395.6" cy="597.1" rx="1.61" ry="1.42" fill="#ff2a2a"/>
<text x="406.1" y="600" font-family="Liberation Serif" font-size="8.0" fill="#222">LDPE 20% 10 micrometer Zn</text>
<path d="M386.8 606.8H404.4" stroke="#98b8f4" stroke-width="1"/>
<path d="M395.6 604.85L397.55 608.07L393.65 608.07Z" fill="#2262e0"/>
<text x="406.1" y="609.7" font-family="Liberation Serif" font-size="8.0" fill="#222">LDPE 20% Bulk Zn</text>
<path d="M386.8 616.6H404.4" stroke="#8ed2aa" stroke-width="1"/>
<path d="M395.6 618.55L397.55 615.33L393.65 615.33Z" fill="#1f9a56"/>
<text x="406.1" y="619.5" font-family="Liberation Serif" font-size="8.0" fill="#222">LDPE 5% 100 nanometer Zn</text>
<path d="M386.8 626.6H404.4" stroke="#dcbcf8" stroke-width="1"/>
<path d="M395.6 624.73L397.48 626.6L395.6 628.48L393.73 626.6Z" fill="#b070e8"/>
<text x="406.1" y="629.5" font-family="Liberation Serif" font-size="8.0" fill="#222">LDPE 5% 10 micrometer Zn</text>
<path d="M386.8 636.4H404.4" stroke="#ecc870" stroke-width="1"/>
<path d="M393.65 636.4L396.87 634.45L396.87 638.35Z" fill="#c88a00"/>
<text x="406.1" y="639.3" font-family="Liberation Serif" font-size="8.0" fill="#222">LDPE 5% Bulk Zn</text>
</svg>
</body></html>
